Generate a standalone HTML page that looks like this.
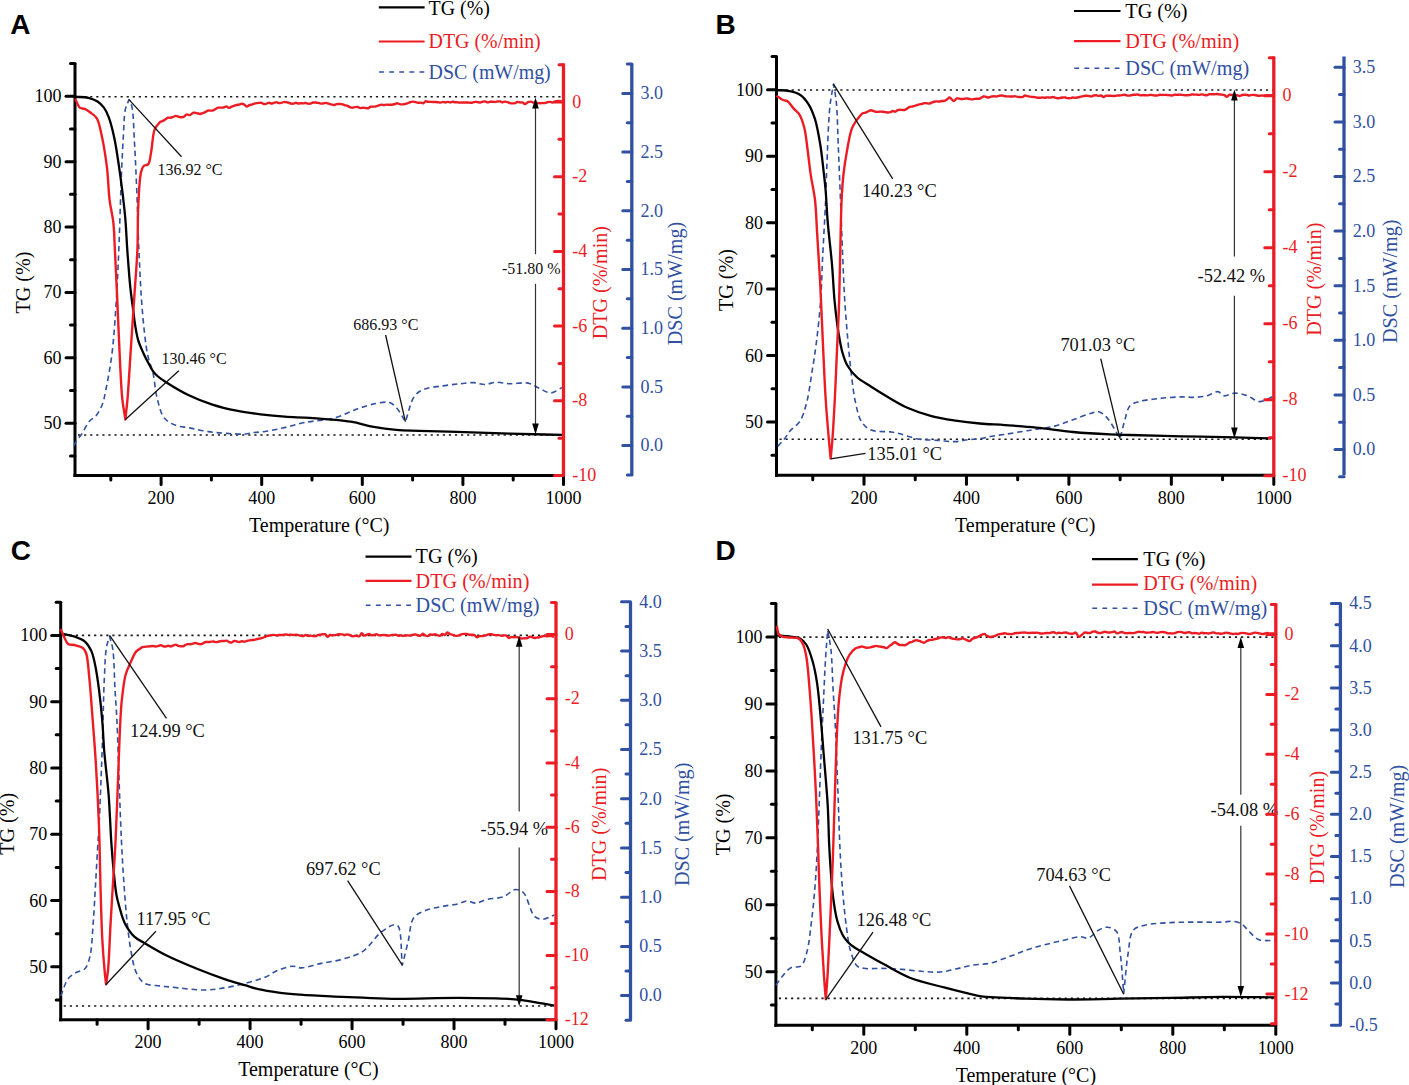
<!DOCTYPE html>
<html><head><meta charset="utf-8"><style>
html,body{margin:0;padding:0;background:#fff;}
svg{display:block;}
</style></head><body>
<svg width="1409" height="1085" viewBox="0 0 1409 1085">
<rect width="1409" height="1085" fill="#fff"/>
<text x="10.2" y="34.4" font-size="28" fill="#000" text-anchor="start" font-family='"Liberation Sans", sans-serif' font-weight="bold">A</text>
<line x1="378.8" y1="7.4" x2="424.6" y2="7.4" stroke="#000000" stroke-width="2.2"/>
<line x1="378.8" y1="41.5" x2="424.6" y2="41.5" stroke="#EC1C24" stroke-width="2.2"/>
<line x1="379.1" y1="72.1" x2="424.6" y2="72.1" stroke="#3050A2" stroke-width="1.5" stroke-dasharray="4.8 5.3"/>
<text x="428.6" y="14.5" font-size="19.9" fill="#000" text-anchor="start" font-family='"Liberation Serif", serif' font-weight="normal">TG (%)</text>
<text x="428.6" y="48.2" font-size="19.9" fill="#EC1C24" text-anchor="start" font-family='"Liberation Serif", serif' font-weight="normal">DTG (%/min)</text>
<text x="428.6" y="78.8" font-size="19.9" fill="#3050A2" text-anchor="start" font-family='"Liberation Serif", serif' font-weight="normal">DSC (mW/mg)</text>
<line x1="78" y1="96.8" x2="562.5" y2="96.8" stroke="#1a1a1a" stroke-width="1.6" stroke-dasharray="2.2 3.88"/>
<line x1="78" y1="435" x2="562.5" y2="435" stroke="#1a1a1a" stroke-width="1.6" stroke-dasharray="2.2 3.88"/>
<line x1="75" y1="63.6" x2="75" y2="477" stroke="#000000" stroke-width="3"/>
<line x1="70.5" y1="455.89" x2="75" y2="455.89" stroke="#000000" stroke-width="3" stroke-linecap="round"/>
<line x1="66" y1="423.2" x2="75" y2="423.2" stroke="#000000" stroke-width="3" stroke-linecap="round"/>
<text x="61.5" y="429.2" font-size="18" fill="#000" text-anchor="end" font-family='"Liberation Serif", serif' font-weight="normal">50</text>
<line x1="70.5" y1="390.5" x2="75" y2="390.5" stroke="#000000" stroke-width="3" stroke-linecap="round"/>
<line x1="66" y1="357.81" x2="75" y2="357.81" stroke="#000000" stroke-width="3" stroke-linecap="round"/>
<text x="61.5" y="363.81" font-size="18" fill="#000" text-anchor="end" font-family='"Liberation Serif", serif' font-weight="normal">60</text>
<line x1="70.5" y1="325.12" x2="75" y2="325.12" stroke="#000000" stroke-width="3" stroke-linecap="round"/>
<line x1="66" y1="292.43" x2="75" y2="292.43" stroke="#000000" stroke-width="3" stroke-linecap="round"/>
<text x="61.5" y="298.43" font-size="18" fill="#000" text-anchor="end" font-family='"Liberation Serif", serif' font-weight="normal">70</text>
<line x1="70.5" y1="259.74" x2="75" y2="259.74" stroke="#000000" stroke-width="3" stroke-linecap="round"/>
<line x1="66" y1="227.05" x2="75" y2="227.05" stroke="#000000" stroke-width="3" stroke-linecap="round"/>
<text x="61.5" y="233.05" font-size="18" fill="#000" text-anchor="end" font-family='"Liberation Serif", serif' font-weight="normal">80</text>
<line x1="70.5" y1="194.36" x2="75" y2="194.36" stroke="#000000" stroke-width="3" stroke-linecap="round"/>
<line x1="66" y1="161.67" x2="75" y2="161.67" stroke="#000000" stroke-width="3" stroke-linecap="round"/>
<text x="61.5" y="167.67" font-size="18" fill="#000" text-anchor="end" font-family='"Liberation Serif", serif' font-weight="normal">90</text>
<line x1="70.5" y1="128.98" x2="75" y2="128.98" stroke="#000000" stroke-width="3" stroke-linecap="round"/>
<line x1="66" y1="96.29" x2="75" y2="96.29" stroke="#000000" stroke-width="3" stroke-linecap="round"/>
<text x="61.5" y="102.29" font-size="18" fill="#000" text-anchor="end" font-family='"Liberation Serif", serif' font-weight="normal">100</text>
<line x1="70.5" y1="63.6" x2="75" y2="63.6" stroke="#000000" stroke-width="3" stroke-linecap="round"/>
<line x1="73.5" y1="475.5" x2="563.5" y2="475.5" stroke="#000000" stroke-width="3"/>
<line x1="110.8" y1="475.5" x2="110.8" y2="480" stroke="#000000" stroke-width="3" stroke-linecap="round"/>
<line x1="161.1" y1="475.5" x2="161.1" y2="484.5" stroke="#000000" stroke-width="3" stroke-linecap="round"/>
<text x="161.1" y="503.8" font-size="18" fill="#000" text-anchor="middle" font-family='"Liberation Serif", serif' font-weight="normal">200</text>
<line x1="211.4" y1="475.5" x2="211.4" y2="480" stroke="#000000" stroke-width="3" stroke-linecap="round"/>
<line x1="261.7" y1="475.5" x2="261.7" y2="484.5" stroke="#000000" stroke-width="3" stroke-linecap="round"/>
<text x="261.7" y="503.8" font-size="18" fill="#000" text-anchor="middle" font-family='"Liberation Serif", serif' font-weight="normal">400</text>
<line x1="312" y1="475.5" x2="312" y2="480" stroke="#000000" stroke-width="3" stroke-linecap="round"/>
<line x1="362.3" y1="475.5" x2="362.3" y2="484.5" stroke="#000000" stroke-width="3" stroke-linecap="round"/>
<text x="362.3" y="503.8" font-size="18" fill="#000" text-anchor="middle" font-family='"Liberation Serif", serif' font-weight="normal">600</text>
<line x1="412.6" y1="475.5" x2="412.6" y2="480" stroke="#000000" stroke-width="3" stroke-linecap="round"/>
<line x1="462.9" y1="475.5" x2="462.9" y2="484.5" stroke="#000000" stroke-width="3" stroke-linecap="round"/>
<text x="462.9" y="503.8" font-size="18" fill="#000" text-anchor="middle" font-family='"Liberation Serif", serif' font-weight="normal">800</text>
<line x1="513.2" y1="475.5" x2="513.2" y2="480" stroke="#000000" stroke-width="3" stroke-linecap="round"/>
<line x1="563.5" y1="475.5" x2="563.5" y2="484.5" stroke="#000000" stroke-width="3" stroke-linecap="round"/>
<text x="563.5" y="503.8" font-size="18" fill="#000" text-anchor="middle" font-family='"Liberation Serif", serif' font-weight="normal">1000</text>
<text x="319.25" y="532.1" font-size="20" fill="#000" text-anchor="middle" font-family='"Liberation Serif", serif' font-weight="normal">Temperature (°C)</text>
<path d="M74,445.5C75,443.67 75.8,441.81 77,440C78.3,438.04 79.95,436.58 81.6,434.2C83.96,430.81 86.64,424.48 89.4,421.3C91.44,418.95 93.85,418.41 95.8,416.1C98.27,413.17 100.65,408.7 102.3,404.5C104.04,400.07 104.58,395.97 105.8,390.1C107.68,381.01 110.16,367.99 111.8,355.1C113.8,339.38 115.03,320.03 116.2,302.5C117.36,285 117.98,269.31 118.8,250C119.81,226.26 120.67,192.05 121.6,170.6C122.23,155.97 122.8,144.67 123.5,133.7C124.06,124.87 123.96,116.03 125.3,109.8C126.2,105.61 127.77,103 129,99.6C129.93,101.77 131.03,102.96 131.8,106.1C133.56,113.29 133.71,130.02 134.5,143C135.38,157.48 136.01,172.58 136.7,189C137.49,207.9 137.95,229.65 138.9,250C139.85,270.41 140.74,292.6 142.4,311.3C143.81,327.15 145.37,343.87 147.7,355.1C149.2,362.33 151.4,366.12 152.9,372.6C154.71,380.43 155.19,390.91 157.3,398.9C159.14,405.9 160.75,413.63 164.3,418.1C167.11,421.64 170.96,423.47 175,425.1C179.38,426.87 184.6,426.89 189.8,427.9C195.6,429.03 202.03,430.68 208.2,431.6C214.34,432.51 220.54,433 226.7,433.4C232.84,433.8 240.03,434.33 245.1,434C248.71,433.77 251.11,432.91 254.3,432.5C257.72,432.06 261,432.08 265,431.5C270.18,430.75 276.45,429.39 282.7,428C289.81,426.42 297.29,424.03 305.4,422.4C314.58,420.56 325.91,420.27 335,417.8C343.2,415.57 350.51,411.27 357.7,408.8C364.02,406.63 370.13,404.5 375.8,403.5C380.63,402.64 385.87,401.54 389.5,402.6C392.34,403.43 394.08,405.24 396.3,407.6C399.43,410.93 402.37,417 405.4,421.7C408.4,413.23 410.39,401.75 414.4,396.3C417.01,392.76 419.71,391.17 423.5,389.5C428.34,387.36 435.62,386.95 441.7,386C447.75,385.05 454.27,384.39 459.9,383.8C464.76,383.29 469.19,382.43 473.5,382.6C477.45,382.76 481.03,384.56 484.8,384.5C488.6,384.44 492.22,382.36 496.2,382.2C500.52,382.02 504.93,383.61 509.8,383.8C515.42,384.02 522.75,382.06 528,383.1C532.36,383.96 535.59,386.66 539.4,388.3C543.16,389.92 546.95,393 550.7,392.9C554.49,392.8 558.23,389.37 562,387.6" fill="none" stroke="#3050A2" stroke-width="1.6" stroke-dasharray="5.5 3.8" stroke-linejoin="round"/>
<path d="M75,96.8C79.47,97.13 84.42,96.87 88.4,97.8C91.82,98.6 94.95,99.76 97.6,101.5C100.15,103.17 102.28,105.4 104.1,107.9C106.03,110.55 107.27,113.35 108.7,117.1C110.74,122.47 112.6,130.07 114.2,137.4C116.05,145.87 117.41,155.86 118.8,165.1C120.18,174.3 121.4,183.65 122.5,192.7C123.56,201.44 124.52,209.46 125.3,218.5C126.16,228.47 126.6,239.98 127.3,250C127.94,259.16 128.67,268.95 129.3,276.3C129.75,281.61 130.04,284.99 130.6,290C131.28,296.11 132.39,304.02 133.2,310.3C133.91,315.73 134.35,320.45 135.2,325.5C136.05,330.58 136.86,335.97 138.3,340.7C139.62,345.06 141.46,348.88 143.3,352.9C145.16,356.98 147.54,361.6 149.4,365C150.8,367.56 151.81,369.64 153.3,371.6C154.7,373.45 156.18,374.92 158,376.5C160.09,378.31 162.12,379.66 165.3,381.7C170.77,385.22 180.4,391.17 188.3,395C196.11,398.79 204.28,401.97 212.4,404.6C220.35,407.18 228.43,409.08 236.5,410.7C244.49,412.3 252.55,413.3 260.6,414.3C268.65,415.3 276.64,416.1 284.8,416.7C293.11,417.31 300.6,417.24 310,417.9C321.98,418.74 339.22,419.85 350.8,421.7C359.55,423.1 365.98,425.53 373.6,426.9C381.14,428.26 388.72,429.25 396.3,429.9C403.85,430.55 410.13,430.49 419,430.8C431.54,431.24 449.27,431.72 464.4,432.2C479.53,432.68 494.14,433.26 509.8,433.7C526.59,434.17 544.6,434.5 562,434.9" fill="none" stroke="#000000" stroke-width="2.3" stroke-linejoin="round"/>
<path d="M75.2,98.7C76.83,101.77 78.08,106.4 80.1,107.9C81.46,108.91 83.15,108.17 84.7,108.8C86.55,109.56 88.42,111.07 90.3,112.5C92.42,114.11 95,115.44 96.7,118.1C99.06,121.78 99.86,127.48 101.3,133.7C103.37,142.65 105.52,155.8 106.9,166.9C108.28,177.94 108.37,190.18 109.6,200.1C110.61,208.24 112.42,214.39 113.3,222.2C114.28,230.91 114.36,239.68 114.9,250C115.58,262.95 116.27,277.98 117,293.8C117.86,312.52 118.73,336.38 119.7,355.1C120.52,370.93 121.06,387.04 122.3,398.9C123.16,407.07 124.37,412.63 125.4,419.5C126.1,412.63 126.79,407.35 127.5,398.9C128.64,385.41 129.83,363.82 131,346.3C132.17,328.79 133.39,310.51 134.5,293.8C135.51,278.54 136.78,264.5 137.4,250C138.01,235.73 137.54,220.98 138.2,207.5C138.8,195.23 139.31,179.32 141,172.4C141.75,169.32 142.31,167.38 143.7,166C144.88,164.83 147.13,165.47 148.3,164.1C150.13,161.95 150.18,156.84 151.1,152.2C152.37,145.78 152.52,134.46 154.8,129.1C156.22,125.75 158.47,124.23 160.3,121.8C161.23,121.43 162.2,121.28 163.1,120.85C164.07,120.4 164.99,119.58 165.9,119.03C166.73,118.53 167.5,117.9 168.35,117.69C169.14,117.49 169.99,117.83 170.8,117.7C171.63,117.57 172.44,117.15 173.25,116.86C174.07,116.56 174.88,115.98 175.7,115.92C176.51,115.87 177.33,116.3 178.15,116.51C178.97,116.73 179.73,117.11 180.6,117.19C181.56,117.28 182.7,117.33 183.67,116.93C184.77,116.48 185.64,114.61 186.73,114.36C187.7,114.14 188.77,115.31 189.8,115.13C191.02,114.92 192.25,112.92 193.5,112.64C194.57,112.4 195.67,112.92 196.75,113.14C197.84,113.35 198.98,113.96 200,113.93C200.93,113.9 201.76,113.42 202.62,113.12C203.51,112.82 204.39,112.51 205.25,112.11C206.14,111.69 206.97,110.89 207.88,110.64C208.72,110.42 209.62,110.64 210.5,110.6C211.38,110.55 212.28,110.65 213.13,110.38C214.04,110.1 214.88,109.32 215.77,108.86C216.63,108.42 217.5,107.88 218.4,107.67C219.26,107.48 220.16,107.65 221.03,107.61C221.91,107.58 222.81,107.67 223.67,107.46C224.56,107.25 225.44,106.27 226.3,106.33C227.19,106.39 228.03,107.87 228.92,107.92C229.78,107.96 230.65,107.02 231.53,106.65C232.4,106.29 233.27,106.02 234.15,105.74C235.02,105.47 235.89,105.19 236.77,104.99C237.63,104.8 238.52,104.77 239.38,104.57C240.26,104.36 241.15,103.7 242,103.74C242.84,103.78 243.66,104.34 244.45,104.8C245.3,105.29 246.08,106.62 246.91,106.65C247.72,106.68 248.51,105.37 249.36,105.04C250.15,104.72 251.01,104.84 251.81,104.61C252.64,104.38 253.44,103.91 254.27,103.65C255.08,103.39 255.9,103.2 256.72,103.06C257.53,102.94 258.35,102.89 259.17,102.86C259.99,102.83 260.83,102.69 261.63,102.89C262.47,103.09 263.24,104 264.08,104.11C264.88,104.22 265.73,103.87 266.53,103.64C267.36,103.41 268.17,102.72 268.99,102.71C269.8,102.7 270.62,103.54 271.44,103.56C272.25,103.58 273.07,103.07 273.89,102.83C274.71,102.6 275.53,102.12 276.35,102.15C277.17,102.19 277.97,102.95 278.8,103.07C279.6,103.18 280.44,103.03 281.25,102.87C282.07,102.7 282.87,102.2 283.69,102.09C284.5,101.98 285.33,102.09 286.14,102.17C286.96,102.25 287.79,102.32 288.59,102.57C289.42,102.82 290.2,103.52 291.03,103.7C291.83,103.87 292.68,103.84 293.48,103.68C294.31,103.51 295.11,102.71 295.93,102.68C296.74,102.66 297.55,103.45 298.37,103.53C299.18,103.61 300,103.22 300.82,103.19C301.63,103.17 302.45,103.41 303.27,103.38C304.08,103.35 304.9,102.96 305.71,103C306.53,103.04 307.34,103.53 308.16,103.63C308.97,103.72 309.81,103.76 310.61,103.58C311.44,103.4 312.22,102.7 313.05,102.53C313.85,102.36 314.67,102.46 315.5,102.51C316.36,102.57 317.26,102.69 318.13,102.87C319.01,103.05 319.88,103.5 320.76,103.58C321.63,103.66 322.52,103.46 323.39,103.35C324.27,103.23 325.15,102.83 326.02,102.89C326.9,102.95 327.77,103.46 328.65,103.72C329.52,103.98 330.4,104.2 331.28,104.43C332.16,104.66 333.04,105.17 333.91,105.11C334.8,105.06 335.65,104.24 336.54,104.06C337.4,103.88 338.29,103.99 339.17,104C340.05,104.01 340.94,103.94 341.8,104.11C342.69,104.29 343.55,104.8 344.43,105.07C345.3,105.32 346.21,105.36 347.07,105.68C347.97,106.01 348.8,106.71 349.7,107.06C350.56,107.39 351.45,107.75 352.33,107.76C353.21,107.77 354.08,107.26 354.97,107.13C355.84,107 356.74,106.8 357.6,106.95C358.49,107.1 359.32,107.95 360.2,108.08C361.05,108.2 361.93,107.78 362.8,107.76C363.67,107.74 364.53,107.88 365.4,107.97C366.27,108.06 367.16,108.46 368,108.28C368.91,108.1 369.73,107.02 370.65,106.74C371.5,106.49 372.42,106.69 373.3,106.62C374.18,106.55 375.08,106.5 375.95,106.3C376.84,106.1 377.72,105.7 378.6,105.42C379.48,105.14 380.34,104.7 381.23,104.63C382.1,104.56 382.98,104.99 383.86,104.99C384.73,104.98 385.61,104.65 386.49,104.62C387.36,104.58 388.24,104.75 389.11,104.76C389.99,104.77 390.87,104.78 391.74,104.69C392.62,104.61 393.51,104.5 394.37,104.27C395.26,104.04 396.12,103.31 397,103.29C397.87,103.27 398.74,103.93 399.62,104.12C400.48,104.3 401.37,104.43 402.24,104.4C403.11,104.38 403.99,104.15 404.86,103.97C405.74,103.79 406.62,103.6 407.48,103.31C408.36,103.03 409.22,102.54 410.1,102.25C410.96,101.98 411.84,101.65 412.72,101.63C413.59,101.61 414.47,101.95 415.34,102.14C416.22,102.33 417.08,102.68 417.96,102.77C418.83,102.85 419.71,102.59 420.58,102.67C421.46,102.74 422.38,103.43 423.2,103.24C424.09,103.03 424.79,101.48 425.66,101.27C426.44,101.08 427.3,101.68 428.12,101.78C428.94,101.87 429.77,101.83 430.59,101.86C431.41,101.89 432.23,101.93 433.05,101.94C433.87,101.96 434.69,101.89 435.51,101.94C436.33,101.99 437.16,102.11 437.98,102.23C438.8,102.35 439.62,102.71 440.44,102.65C441.27,102.6 442.08,101.9 442.9,101.88C443.72,101.86 444.54,102.51 445.36,102.51C446.18,102.52 447,101.93 447.82,101.91C448.64,101.89 449.47,102.41 450.29,102.39C451.11,102.37 451.93,101.8 452.75,101.77C453.57,101.74 454.39,102.1 455.21,102.2C456.03,102.3 456.85,102.3 457.68,102.37C458.5,102.44 459.32,102.6 460.14,102.62C460.96,102.63 461.78,102.48 462.6,102.46C463.43,102.44 464.27,102.47 465.1,102.48C465.93,102.49 466.77,102.47 467.6,102.52C468.43,102.57 469.27,102.75 470.1,102.77C470.93,102.78 471.78,102.75 472.6,102.6C473.44,102.45 474.26,101.92 475.1,101.85C475.93,101.77 476.77,102.02 477.6,102.13C478.43,102.24 479.27,102.54 480.1,102.48C480.94,102.42 481.76,101.91 482.6,101.73C483.43,101.55 484.28,101.31 485.1,101.41C485.95,101.51 486.76,102.3 487.6,102.36C488.43,102.41 489.26,101.86 490.1,101.76C490.93,101.66 491.77,101.75 492.6,101.78C493.43,101.8 494.27,101.97 495.1,101.92C495.94,101.87 496.76,101.56 497.6,101.47C498.43,101.39 499.28,101.27 500.1,101.4C500.95,101.53 501.76,102.25 502.6,102.28C503.43,102.31 504.26,101.62 505.1,101.59C505.93,101.56 506.78,101.85 507.6,102.1C508.45,102.36 509.25,102.9 510.1,103.11C510.92,103.32 511.77,103.35 512.6,103.36C513.43,103.37 514.29,103.38 515.1,103.17C515.95,102.94 516.74,102.1 517.59,101.99C518.4,101.89 519.25,102.41 520.08,102.47C520.91,102.54 521.78,102.17 522.57,102.41C523.44,102.67 524.23,104.12 525.06,104.12C525.89,104.12 526.69,102.85 527.55,102.42C528.35,102.02 529.2,101.59 530.04,101.58C530.86,101.56 531.69,102.13 532.53,102.33C533.35,102.53 534.18,102.67 535.02,102.77C535.84,102.88 536.68,102.89 537.51,102.98C538.34,103.06 539.16,103.27 539.99,103.28C540.82,103.3 541.65,103.09 542.48,103.05C543.31,103.02 544.15,103.19 544.97,103.06C545.81,102.93 546.63,102.46 547.46,102.26C548.29,102.06 549.13,101.82 549.95,101.85C550.79,101.89 551.62,102.52 552.44,102.48C553.28,102.44 554.1,101.85 554.93,101.59C555.76,101.33 556.58,100.99 557.42,100.91C558.24,100.84 559.09,100.94 559.91,101.13C560.75,101.33 561.57,101.78 562.4,102.1" fill="none" stroke="#EC1C24" stroke-width="2.4" stroke-linejoin="round"/>
<line x1="129" y1="99.6" x2="181.5" y2="156.8" stroke="#111" stroke-width="1.3"/>
<text x="157.4" y="175.2" font-size="16" fill="#111" text-anchor="start" font-family='"Liberation Serif", serif' font-weight="normal">136.92 °C</text>
<line x1="125.4" y1="419.5" x2="178.8" y2="370.7" stroke="#111" stroke-width="1.3"/>
<text x="161.6" y="364.3" font-size="16" fill="#111" text-anchor="start" font-family='"Liberation Serif", serif' font-weight="normal">130.46 °C</text>
<line x1="385.6" y1="335" x2="405.4" y2="421.7" stroke="#111" stroke-width="1.3"/>
<text x="353.3" y="330.4" font-size="16" fill="#111" text-anchor="start" font-family='"Liberation Serif", serif' font-weight="normal">686.93 °C</text>
<line x1="535.5" y1="105.5" x2="535.5" y2="254.2" stroke="#333" stroke-width="1.2"/>
<line x1="535.5" y1="283.8" x2="535.5" y2="426.4" stroke="#333" stroke-width="1.2"/>
<path d="M535.5,97.5 L532.2,108.5 L538.8,108.5 Z" fill="#000"/>
<path d="M535.5,434.4 L532.2,423.4 L538.8,423.4 Z" fill="#000"/>
<text x="502" y="273.5" font-size="16" fill="#111" text-anchor="start" font-family='"Liberation Serif", serif' font-weight="normal">-51.80 %</text>
<line x1="563.5" y1="63.6" x2="563.5" y2="475.5" stroke="#EC1C24" stroke-width="3.3"/>
<line x1="554.5" y1="475.5" x2="563.5" y2="475.5" stroke="#EC1C24" stroke-width="3" stroke-linecap="round"/>
<text x="572.2" y="481.1" font-size="18" fill="#EC1C24" text-anchor="start" font-family='"Liberation Serif", serif' font-weight="normal">-10</text>
<line x1="559" y1="438.15" x2="563.5" y2="438.15" stroke="#EC1C24" stroke-width="3" stroke-linecap="round"/>
<line x1="554.5" y1="400.8" x2="563.5" y2="400.8" stroke="#EC1C24" stroke-width="3" stroke-linecap="round"/>
<text x="572.2" y="406.4" font-size="18" fill="#EC1C24" text-anchor="start" font-family='"Liberation Serif", serif' font-weight="normal">-8</text>
<line x1="559" y1="363.45" x2="563.5" y2="363.45" stroke="#EC1C24" stroke-width="3" stroke-linecap="round"/>
<line x1="554.5" y1="326.1" x2="563.5" y2="326.1" stroke="#EC1C24" stroke-width="3" stroke-linecap="round"/>
<text x="572.2" y="331.7" font-size="18" fill="#EC1C24" text-anchor="start" font-family='"Liberation Serif", serif' font-weight="normal">-6</text>
<line x1="559" y1="288.75" x2="563.5" y2="288.75" stroke="#EC1C24" stroke-width="3" stroke-linecap="round"/>
<line x1="554.5" y1="251.4" x2="563.5" y2="251.4" stroke="#EC1C24" stroke-width="3" stroke-linecap="round"/>
<text x="572.2" y="257" font-size="18" fill="#EC1C24" text-anchor="start" font-family='"Liberation Serif", serif' font-weight="normal">-4</text>
<line x1="559" y1="214.05" x2="563.5" y2="214.05" stroke="#EC1C24" stroke-width="3" stroke-linecap="round"/>
<line x1="554.5" y1="176.7" x2="563.5" y2="176.7" stroke="#EC1C24" stroke-width="3" stroke-linecap="round"/>
<text x="572.2" y="182.3" font-size="18" fill="#EC1C24" text-anchor="start" font-family='"Liberation Serif", serif' font-weight="normal">-2</text>
<line x1="559" y1="139.35" x2="563.5" y2="139.35" stroke="#EC1C24" stroke-width="3" stroke-linecap="round"/>
<line x1="554.5" y1="102" x2="563.5" y2="102" stroke="#EC1C24" stroke-width="3" stroke-linecap="round"/>
<text x="572.2" y="107.6" font-size="18" fill="#EC1C24" text-anchor="start" font-family='"Liberation Serif", serif' font-weight="normal">0</text>
<line x1="559" y1="64.65" x2="563.5" y2="64.65" stroke="#EC1C24" stroke-width="3" stroke-linecap="round"/>
<line x1="631.8" y1="63.6" x2="631.8" y2="475.5" stroke="#3050A2" stroke-width="3.3"/>
<line x1="627.3" y1="474.95" x2="631.8" y2="474.95" stroke="#3050A2" stroke-width="3" stroke-linecap="round"/>
<line x1="622.8" y1="445.6" x2="631.8" y2="445.6" stroke="#3050A2" stroke-width="3" stroke-linecap="round"/>
<text x="640.6" y="451.4" font-size="18" fill="#3050A2" text-anchor="start" font-family='"Liberation Serif", serif' font-weight="normal">0.0</text>
<line x1="627.3" y1="416.25" x2="631.8" y2="416.25" stroke="#3050A2" stroke-width="3" stroke-linecap="round"/>
<line x1="622.8" y1="386.9" x2="631.8" y2="386.9" stroke="#3050A2" stroke-width="3" stroke-linecap="round"/>
<text x="640.6" y="392.7" font-size="18" fill="#3050A2" text-anchor="start" font-family='"Liberation Serif", serif' font-weight="normal">0.5</text>
<line x1="627.3" y1="357.55" x2="631.8" y2="357.55" stroke="#3050A2" stroke-width="3" stroke-linecap="round"/>
<line x1="622.8" y1="328.2" x2="631.8" y2="328.2" stroke="#3050A2" stroke-width="3" stroke-linecap="round"/>
<text x="640.6" y="334" font-size="18" fill="#3050A2" text-anchor="start" font-family='"Liberation Serif", serif' font-weight="normal">1.0</text>
<line x1="627.3" y1="298.85" x2="631.8" y2="298.85" stroke="#3050A2" stroke-width="3" stroke-linecap="round"/>
<line x1="622.8" y1="269.5" x2="631.8" y2="269.5" stroke="#3050A2" stroke-width="3" stroke-linecap="round"/>
<text x="640.6" y="275.3" font-size="18" fill="#3050A2" text-anchor="start" font-family='"Liberation Serif", serif' font-weight="normal">1.5</text>
<line x1="627.3" y1="240.15" x2="631.8" y2="240.15" stroke="#3050A2" stroke-width="3" stroke-linecap="round"/>
<line x1="622.8" y1="210.8" x2="631.8" y2="210.8" stroke="#3050A2" stroke-width="3" stroke-linecap="round"/>
<text x="640.6" y="216.6" font-size="18" fill="#3050A2" text-anchor="start" font-family='"Liberation Serif", serif' font-weight="normal">2.0</text>
<line x1="627.3" y1="181.45" x2="631.8" y2="181.45" stroke="#3050A2" stroke-width="3" stroke-linecap="round"/>
<line x1="622.8" y1="152.1" x2="631.8" y2="152.1" stroke="#3050A2" stroke-width="3" stroke-linecap="round"/>
<text x="640.6" y="157.9" font-size="18" fill="#3050A2" text-anchor="start" font-family='"Liberation Serif", serif' font-weight="normal">2.5</text>
<line x1="627.3" y1="122.75" x2="631.8" y2="122.75" stroke="#3050A2" stroke-width="3" stroke-linecap="round"/>
<line x1="622.8" y1="93.4" x2="631.8" y2="93.4" stroke="#3050A2" stroke-width="3" stroke-linecap="round"/>
<text x="640.6" y="99.2" font-size="18" fill="#3050A2" text-anchor="start" font-family='"Liberation Serif", serif' font-weight="normal">3.0</text>
<line x1="627.3" y1="64.05" x2="631.8" y2="64.05" stroke="#3050A2" stroke-width="3" stroke-linecap="round"/>
<text x="30.4" y="282.5" font-size="20.1" fill="#000" text-anchor="middle" font-family='"Liberation Serif", serif' font-weight="normal" transform="rotate(-90 30.4 282.5)">TG (%)</text>
<text x="606.6" y="282.6" font-size="20.1" fill="#EC1C24" text-anchor="middle" font-family='"Liberation Serif", serif' font-weight="normal" transform="rotate(-90 606.6 282.6)">DTG (%/min)</text>
<text x="682.1" y="283.5" font-size="20.1" fill="#3050A2" text-anchor="middle" font-family='"Liberation Serif", serif' font-weight="normal" transform="rotate(-90 682.1 283.5)">DSC (mW/mg)</text>
<text x="715.6" y="34.1" font-size="28" fill="#000" text-anchor="start" font-family='"Liberation Sans", sans-serif' font-weight="bold">B</text>
<line x1="1074" y1="11" x2="1120.5" y2="11" stroke="#000000" stroke-width="2.2"/>
<line x1="1074" y1="41.2" x2="1120.5" y2="41.2" stroke="#EC1C24" stroke-width="2.2"/>
<line x1="1074.3" y1="68.2" x2="1120.5" y2="68.2" stroke="#3050A2" stroke-width="1.5" stroke-dasharray="4.8 5.3"/>
<text x="1125.3" y="18" font-size="20.2" fill="#000" text-anchor="start" font-family='"Liberation Serif", serif' font-weight="normal">TG (%)</text>
<text x="1125.3" y="47.9" font-size="20.2" fill="#EC1C24" text-anchor="start" font-family='"Liberation Serif", serif' font-weight="normal">DTG (%/min)</text>
<text x="1125.3" y="74.9" font-size="20.2" fill="#3050A2" text-anchor="start" font-family='"Liberation Serif", serif' font-weight="normal">DSC (mW/mg)</text>
<line x1="779.5" y1="90" x2="1272.8" y2="90" stroke="#1a1a1a" stroke-width="1.6" stroke-dasharray="2.2 3.88"/>
<line x1="779.5" y1="439.2" x2="1272.8" y2="439.2" stroke="#1a1a1a" stroke-width="1.6" stroke-dasharray="2.2 3.88"/>
<line x1="776.5" y1="56.5" x2="776.5" y2="476.7" stroke="#000000" stroke-width="3"/>
<line x1="772" y1="455.26" x2="776.5" y2="455.26" stroke="#000000" stroke-width="3" stroke-linecap="round"/>
<line x1="767.5" y1="422.03" x2="776.5" y2="422.03" stroke="#000000" stroke-width="3" stroke-linecap="round"/>
<text x="763" y="428.03" font-size="18" fill="#000" text-anchor="end" font-family='"Liberation Serif", serif' font-weight="normal">50</text>
<line x1="772" y1="388.8" x2="776.5" y2="388.8" stroke="#000000" stroke-width="3" stroke-linecap="round"/>
<line x1="767.5" y1="355.57" x2="776.5" y2="355.57" stroke="#000000" stroke-width="3" stroke-linecap="round"/>
<text x="763" y="361.57" font-size="18" fill="#000" text-anchor="end" font-family='"Liberation Serif", serif' font-weight="normal">60</text>
<line x1="772" y1="322.34" x2="776.5" y2="322.34" stroke="#000000" stroke-width="3" stroke-linecap="round"/>
<line x1="767.5" y1="289.11" x2="776.5" y2="289.11" stroke="#000000" stroke-width="3" stroke-linecap="round"/>
<text x="763" y="295.11" font-size="18" fill="#000" text-anchor="end" font-family='"Liberation Serif", serif' font-weight="normal">70</text>
<line x1="772" y1="255.88" x2="776.5" y2="255.88" stroke="#000000" stroke-width="3" stroke-linecap="round"/>
<line x1="767.5" y1="222.65" x2="776.5" y2="222.65" stroke="#000000" stroke-width="3" stroke-linecap="round"/>
<text x="763" y="228.65" font-size="18" fill="#000" text-anchor="end" font-family='"Liberation Serif", serif' font-weight="normal">80</text>
<line x1="772" y1="189.42" x2="776.5" y2="189.42" stroke="#000000" stroke-width="3" stroke-linecap="round"/>
<line x1="767.5" y1="156.19" x2="776.5" y2="156.19" stroke="#000000" stroke-width="3" stroke-linecap="round"/>
<text x="763" y="162.19" font-size="18" fill="#000" text-anchor="end" font-family='"Liberation Serif", serif' font-weight="normal">90</text>
<line x1="772" y1="122.96" x2="776.5" y2="122.96" stroke="#000000" stroke-width="3" stroke-linecap="round"/>
<line x1="767.5" y1="89.73" x2="776.5" y2="89.73" stroke="#000000" stroke-width="3" stroke-linecap="round"/>
<text x="763" y="95.73" font-size="18" fill="#000" text-anchor="end" font-family='"Liberation Serif", serif' font-weight="normal">100</text>
<line x1="772" y1="56.5" x2="776.5" y2="56.5" stroke="#000000" stroke-width="3" stroke-linecap="round"/>
<line x1="775" y1="475.2" x2="1273.8" y2="475.2" stroke="#000000" stroke-width="3"/>
<line x1="812.77" y1="475.2" x2="812.77" y2="479.7" stroke="#000000" stroke-width="3" stroke-linecap="round"/>
<line x1="864" y1="475.2" x2="864" y2="484.2" stroke="#000000" stroke-width="3" stroke-linecap="round"/>
<text x="864" y="503.5" font-size="18" fill="#000" text-anchor="middle" font-family='"Liberation Serif", serif' font-weight="normal">200</text>
<line x1="915.23" y1="475.2" x2="915.23" y2="479.7" stroke="#000000" stroke-width="3" stroke-linecap="round"/>
<line x1="966.45" y1="475.2" x2="966.45" y2="484.2" stroke="#000000" stroke-width="3" stroke-linecap="round"/>
<text x="966.45" y="503.5" font-size="18" fill="#000" text-anchor="middle" font-family='"Liberation Serif", serif' font-weight="normal">400</text>
<line x1="1017.67" y1="475.2" x2="1017.67" y2="479.7" stroke="#000000" stroke-width="3" stroke-linecap="round"/>
<line x1="1068.9" y1="475.2" x2="1068.9" y2="484.2" stroke="#000000" stroke-width="3" stroke-linecap="round"/>
<text x="1068.9" y="503.5" font-size="18" fill="#000" text-anchor="middle" font-family='"Liberation Serif", serif' font-weight="normal">600</text>
<line x1="1120.12" y1="475.2" x2="1120.12" y2="479.7" stroke="#000000" stroke-width="3" stroke-linecap="round"/>
<line x1="1171.35" y1="475.2" x2="1171.35" y2="484.2" stroke="#000000" stroke-width="3" stroke-linecap="round"/>
<text x="1171.35" y="503.5" font-size="18" fill="#000" text-anchor="middle" font-family='"Liberation Serif", serif' font-weight="normal">800</text>
<line x1="1222.57" y1="475.2" x2="1222.57" y2="479.7" stroke="#000000" stroke-width="3" stroke-linecap="round"/>
<line x1="1273.8" y1="475.2" x2="1273.8" y2="484.2" stroke="#000000" stroke-width="3" stroke-linecap="round"/>
<text x="1273.8" y="503.5" font-size="18" fill="#000" text-anchor="middle" font-family='"Liberation Serif", serif' font-weight="normal">1000</text>
<text x="1025.15" y="531.8" font-size="20" fill="#000" text-anchor="middle" font-family='"Liberation Serif", serif' font-weight="normal">Temperature (°C)</text>
<path d="M777.7,446.5C780.2,443.63 783.04,440.67 785.2,437.9C787.05,435.53 787.97,433.41 790,431C792.62,427.88 797.34,425.27 800,421.1C803.13,416.2 804.77,409.64 806.6,402.8C808.82,394.5 810.01,384.39 811.6,374.6C813.32,364.02 815.05,353.17 816.5,341.5C818.12,328.47 819.7,313.72 820.7,300C821.68,286.56 821.79,274.65 822.5,260C823.37,242.15 824.87,217.1 825.6,200.6C826.12,188.82 826.18,182.26 826.7,170.3C827.45,152.94 828.24,122.29 829.9,106.5C830.89,97.09 832.3,91.57 833.5,84.1C834.43,90.13 835.56,94.74 836.3,102.2C837.49,114.14 837.71,133.06 838.4,149C839.12,165.63 839.81,182.76 840.5,200C841.21,217.72 841.87,236.64 842.6,253.9C843.27,269.87 843.77,285.04 844.7,300C845.59,314.2 846.81,328.45 848,341.5C849.06,353.16 850.08,364.06 851.4,374.6C852.61,384.28 853.6,394.04 855.5,402.4C857.11,409.49 858.35,416.89 861.5,421.7C864.01,425.53 867.07,428.34 871.2,430.1C876.28,432.27 885.63,431.27 890.5,431.9C893.49,432.29 895.01,432.47 897.7,433.1C901.24,433.93 905.99,435.74 909.8,436.8C913.17,437.74 915.67,438.61 919.4,439.2C924.46,439.99 931.47,440 937.5,440.4C943.53,440.8 950.18,441.82 955.6,441.6C960.05,441.42 963.66,440.3 967.7,439.8C971.73,439.3 975.79,439.2 979.8,438.6C983.82,438 987.69,436.91 991.8,436.2C996.09,435.46 1000.05,435.06 1005,434.3C1011.39,433.32 1019.18,431.98 1026.9,430.7C1035.57,429.27 1046.3,428.19 1054.5,426.1C1061.36,424.35 1066.85,421.85 1073,419.7C1079.15,417.55 1086.6,414.53 1091.4,413.2C1094.38,412.37 1096.57,411.31 1098.8,411.7C1100.87,412.06 1102.65,413.62 1104.4,415.1C1106.38,416.78 1107.93,418.74 1109.9,421.5C1112.93,425.75 1116.63,432.97 1120,438.7C1121.57,432.67 1122.95,426.29 1124.7,420.6C1126.31,415.38 1127.11,408.97 1130,405.8C1132.29,403.28 1135.26,402.73 1139,401.6C1144.5,399.94 1153.18,399.18 1160.3,398.4C1167.38,397.62 1175.4,397.02 1181.6,396.9C1186.4,396.81 1190.14,397.48 1194.4,397.3C1198.67,397.12 1203.2,396.81 1207.2,395.8C1210.97,394.85 1214.78,391.29 1217.8,391.6C1220.28,391.85 1221.69,395.38 1224.2,395.8C1227.2,396.3 1231.09,393.18 1234.8,393.1C1238.86,393.02 1243.52,394.38 1247.6,395.8C1251.68,397.22 1255.18,401.38 1259.3,401.6C1263.69,401.84 1268.57,398.2 1273.2,396.5" fill="none" stroke="#3050A2" stroke-width="1.6" stroke-dasharray="5.5 3.8" stroke-linejoin="round"/>
<path d="M776.5,90C780.8,90.37 785.36,90.25 789.4,91.1C793.16,91.89 796.88,92.64 800,94.7C803.35,96.91 806.19,100.52 808.6,104.3C811.31,108.54 813.19,113.46 815,119.2C817.29,126.49 818.88,136.25 820.3,144.8C821.71,153.28 822.58,162.34 823.5,170.3C824.31,177.29 824.97,182.64 825.6,190C826.41,199.35 826.75,210.51 827.7,221.9C828.8,235.08 830.84,250.94 832,264.5C833.06,276.86 833.51,289.22 834.5,300C835.33,309.04 836.24,317.27 837.3,324.9C838.21,331.43 839.35,338.07 840.3,343C840.96,346.44 841.27,348.53 842.2,351.7C843.37,355.7 844.76,360.86 847.1,365C849.54,369.31 852.85,373.47 856.7,377C860.8,380.76 866.34,383.57 871.2,386.7C876.01,389.8 880.34,392.54 885.7,395.7C892.17,399.51 899.82,404.4 907.4,407.8C915.08,411.25 923.38,414.04 931.5,416.2C939.45,418.32 947.54,419.48 955.6,420.7C963.64,421.91 971.64,422.77 979.8,423.5C988.11,424.24 996.16,424.46 1005,425.1C1014.82,425.81 1025.3,426.52 1036.1,427.6C1047.89,428.78 1060.68,430.87 1073,432C1085.28,433.13 1099.45,433.9 1109.9,434.4C1117.61,434.77 1121.75,434.77 1130,435C1143.22,435.36 1164.27,435.9 1181.6,436.3C1199.2,436.7 1218.77,437.01 1234.8,437.4C1248.03,437.72 1258.93,438.07 1271,438.4" fill="none" stroke="#000000" stroke-width="2.3" stroke-linejoin="round"/>
<path d="M776.5,95.8C778.67,97.2 780.99,99.12 783,100C784.52,100.67 785.87,100.21 787.3,101.1C789.44,102.43 791.62,106.35 793.7,108.6C795.51,110.56 797.44,111.51 799,113.9C801.18,117.26 802.93,122.52 804.3,127.7C805.95,133.95 806.48,141.57 807.5,149C808.62,157.13 809.45,166.1 810.7,174.6C811.95,183.1 813.95,190.98 815,200C816.18,210.16 816.34,220.41 817.1,232.6C818.07,248.17 819.32,267.24 820.3,285.8C821.37,306.14 822.24,329.81 823.2,349.8C824.04,367.41 824.67,383.69 825.7,399.5C826.64,413.96 828.07,430.13 829,441C829.6,448.04 830.07,452.6 830.6,458.4C831.17,452.6 831.74,448.05 832.3,441C833.16,430.13 834.04,413.96 834.8,399.5C835.63,383.68 836.29,365.62 837,349.8C837.65,335.34 838.38,323.31 838.9,308.3C839.52,290.52 839.83,268.69 840.3,250C840.73,232.69 840.92,213.8 841.6,200C842.08,190.23 842.49,183.31 843.4,175C844.32,166.67 845.62,158.09 847.1,150.1C848.49,142.59 849.8,133.83 851.9,128.4C853.28,124.82 855.1,122.8 856.7,120C858.7,117.76 860.91,114.3 862.7,113.27C863.71,112.68 864.61,113.01 865.53,112.68C866.5,112.34 867.41,111.64 868.37,111.23C869.3,110.84 870.25,110.27 871.2,110.28C872.17,110.29 873.14,111.07 874.13,111.33C875.1,111.59 876.09,111.79 877.07,111.84C878.04,111.89 879.04,111.63 880,111.62C880.92,111.61 881.8,111.69 882.7,111.77C883.6,111.85 884.5,111.98 885.4,112.09C886.3,112.21 887.23,112.49 888.1,112.47C888.92,112.46 889.71,112.28 890.5,112.05C891.31,111.81 892.09,111.11 892.9,111.05C893.69,111 894.52,111.8 895.3,111.68C896.13,111.56 896.86,110.51 897.7,110.2C898.48,109.91 899.32,109.84 900.13,109.81C900.94,109.78 901.76,110.03 902.57,110.04C903.38,110.05 904.1,110.16 905,109.86C906.38,109.41 908.42,107.26 909.8,106.8C910.69,106.5 911.41,106.77 912.2,106.6C913.01,106.44 913.8,106.05 914.6,105.79C915.4,105.53 916.2,105.28 917,105.03C917.8,104.79 918.59,104.52 919.4,104.34C920.2,104.16 921.02,104.17 921.82,103.97C922.64,103.76 923.42,103.22 924.24,103.11C925.04,103 925.85,103.18 926.66,103.26C927.47,103.35 928.28,103.69 929.08,103.6C929.9,103.5 930.68,102.99 931.5,102.68C932.35,102.36 933.23,101.94 934.12,101.72C934.98,101.51 935.86,101.4 936.73,101.37C937.6,101.34 938.48,101.59 939.35,101.53C940.23,101.46 941.09,101.05 941.97,100.95C942.83,100.84 943.75,101.15 944.58,100.89C945.5,100.62 946.35,99.79 947.2,99.22C948.02,98.66 948.7,97.46 949.6,97.5C950.82,97.55 952.52,101.05 953.8,101.04C954.89,101.03 955.77,98.76 956.8,98.43C957.63,98.16 958.5,98.57 959.36,98.67C960.21,98.77 961.06,99.03 961.91,99.04C962.76,99.04 963.61,98.8 964.47,98.7C965.32,98.61 966.17,98.44 967.02,98.49C967.88,98.53 968.72,98.82 969.58,98.96C970.43,99.1 971.28,99.36 972.13,99.34C972.99,99.32 973.83,98.95 974.69,98.84C975.54,98.74 976.39,98.76 977.24,98.72C978.1,98.68 978.91,98.88 979.8,98.62C980.94,98.28 982.28,96.72 983.4,96.48C984.25,96.29 985.01,96.55 985.8,96.71C986.61,96.88 987.37,97.47 988.2,97.47C989.08,97.48 990.01,96.84 990.93,96.64C991.83,96.44 992.74,96.31 993.65,96.28C994.56,96.25 995.47,96.52 996.38,96.45C997.29,96.37 998.17,95.96 999.1,95.81C1000.06,95.66 1001.07,95.5 1002.05,95.56C1003.04,95.63 1004.05,96.09 1005,96.23C1005.86,96.35 1006.66,96.34 1007.48,96.38C1008.31,96.41 1009.14,96.4 1009.97,96.43C1010.79,96.46 1011.63,96.6 1012.45,96.55C1013.28,96.5 1014.11,96.07 1014.93,96.12C1015.77,96.17 1016.58,96.71 1017.42,96.86C1018.24,97 1019.07,96.96 1019.9,96.99C1020.73,97.03 1021.59,97.31 1022.38,97.09C1023.25,96.85 1024.01,95.59 1024.87,95.46C1025.67,95.34 1026.52,95.97 1027.35,96.17C1028.17,96.36 1029,96.51 1029.83,96.64C1030.66,96.76 1031.49,96.83 1032.32,96.91C1033.14,97 1033.97,97 1034.8,97.13C1035.64,97.26 1036.48,97.58 1037.33,97.7C1038.17,97.81 1039.02,97.84 1039.86,97.81C1040.71,97.79 1041.55,97.56 1042.39,97.54C1043.24,97.53 1044.08,97.74 1044.92,97.71C1045.77,97.68 1046.61,97.4 1047.46,97.38C1048.3,97.35 1049.15,97.63 1049.99,97.57C1050.84,97.52 1051.68,97.03 1052.52,97.04C1053.36,97.05 1054.21,97.42 1055.05,97.64C1055.9,97.85 1056.73,98.27 1057.58,98.32C1058.42,98.36 1059.27,98.06 1060.11,97.93C1060.96,97.8 1061.8,97.61 1062.64,97.53C1063.49,97.45 1064.34,97.33 1065.17,97.44C1066.03,97.54 1066.85,98.05 1067.71,98.17C1068.54,98.28 1069.4,98.28 1070.24,98.16C1071.09,98.04 1071.92,97.48 1072.77,97.43C1073.61,97.38 1074.44,97.88 1075.3,97.87C1076.19,97.86 1077.1,97.52 1078,97.32C1078.9,97.12 1079.8,96.87 1080.7,96.67C1081.6,96.46 1082.5,96.24 1083.4,96.08C1084.3,95.93 1085.2,95.75 1086.1,95.74C1087,95.72 1087.93,95.85 1088.8,95.98C1089.64,96.1 1090.44,96.55 1091.25,96.48C1092.08,96.41 1092.87,95.69 1093.7,95.49C1094.5,95.31 1095.34,95.25 1096.15,95.31C1096.97,95.37 1097.78,95.83 1098.6,95.85C1099.41,95.88 1100.26,95.31 1101.05,95.47C1101.9,95.65 1102.67,96.98 1103.5,97.02C1104.31,97.06 1105.11,95.98 1105.95,95.77C1106.74,95.57 1107.58,95.72 1108.4,95.71C1109.22,95.7 1110.03,95.66 1110.85,95.71C1111.67,95.76 1112.48,96.01 1113.3,96.02C1114.12,96.04 1114.93,95.88 1115.75,95.79C1116.57,95.7 1117.38,95.54 1118.2,95.47C1119.02,95.41 1119.84,95.5 1120.65,95.4C1121.47,95.29 1122.28,94.92 1123.1,94.85C1123.91,94.78 1124.74,94.83 1125.55,94.96C1126.37,95.09 1127.18,95.56 1128,95.65C1128.81,95.73 1129.64,95.61 1130.45,95.47C1131.27,95.33 1132.08,94.91 1132.9,94.79C1133.71,94.68 1134.53,94.82 1135.35,94.77C1136.17,94.73 1136.99,94.45 1137.8,94.54C1138.63,94.63 1139.42,95.27 1140.25,95.35C1141.06,95.44 1141.88,95.1 1142.7,95.09C1143.52,95.08 1144.33,95.25 1145.15,95.29C1145.97,95.33 1146.79,95.4 1147.6,95.34C1148.42,95.28 1149.23,94.96 1150.05,94.92C1150.86,94.89 1151.69,95.02 1152.5,95.11C1153.32,95.2 1154.13,95.45 1154.95,95.49C1155.76,95.52 1156.59,95.46 1157.4,95.34C1158.22,95.21 1159.03,94.8 1159.85,94.73C1160.66,94.67 1161.48,94.91 1162.3,94.93C1163.12,94.94 1163.93,94.84 1164.75,94.84C1165.57,94.84 1166.38,94.87 1167.2,94.94C1168.02,95 1168.83,95.15 1169.65,95.24C1170.47,95.33 1171.29,95.58 1172.1,95.48C1172.93,95.39 1173.72,94.76 1174.55,94.66C1175.36,94.57 1176.18,94.87 1177,94.87C1177.82,94.86 1178.63,94.61 1179.45,94.62C1180.27,94.62 1181.08,94.81 1181.9,94.89C1182.72,94.98 1183.53,95.07 1184.35,95.14C1185.17,95.2 1185.98,95.29 1186.8,95.3C1187.62,95.3 1188.44,95.32 1189.25,95.18C1190.08,95.04 1190.87,94.54 1191.7,94.44C1192.51,94.35 1193.33,94.56 1194.15,94.6C1194.97,94.63 1195.78,94.6 1196.6,94.65C1197.44,94.69 1198.29,94.91 1199.13,94.86C1199.98,94.82 1200.82,94.36 1201.66,94.36C1202.51,94.36 1203.35,94.7 1204.19,94.84C1205.04,94.99 1205.89,95.32 1206.72,95.24C1207.58,95.15 1208.4,94.44 1209.26,94.27C1210.09,94.11 1210.94,94.19 1211.79,94.19C1212.63,94.2 1213.48,94.33 1214.32,94.29C1215.16,94.26 1216.01,93.98 1216.85,93.99C1217.69,94 1218.54,94.27 1219.38,94.37C1220.22,94.46 1221.07,94.44 1221.91,94.57C1222.76,94.72 1223.63,94.87 1224.44,95.21C1225.32,95.58 1226.15,96.81 1226.97,96.76C1227.84,96.7 1228.61,95.01 1229.51,94.76C1230.31,94.53 1231.19,95.05 1232.04,95.06C1232.88,95.08 1233.73,94.82 1234.57,94.86C1235.41,94.89 1236.26,95.09 1237.1,95.27C1237.94,95.45 1238.77,96.01 1239.59,95.97C1240.43,95.93 1241.24,95.23 1242.09,95.02C1242.9,94.82 1243.75,94.71 1244.58,94.71C1245.41,94.71 1246.24,94.86 1247.07,95C1247.91,95.14 1248.74,95.57 1249.56,95.55C1250.4,95.53 1251.22,94.98 1252.06,94.88C1252.88,94.78 1253.72,94.84 1254.55,94.94C1255.39,95.05 1256.21,95.38 1257.04,95.52C1257.87,95.66 1258.7,95.77 1259.54,95.78C1260.37,95.78 1261.2,95.58 1262.03,95.56C1262.86,95.54 1263.69,95.66 1264.52,95.63C1265.35,95.6 1266.18,95.42 1267.01,95.37C1267.84,95.33 1268.68,95.38 1269.51,95.35C1270.34,95.32 1271.17,95.25 1272,95.2" fill="none" stroke="#EC1C24" stroke-width="2.4" stroke-linejoin="round"/>
<line x1="833.5" y1="84.1" x2="892.7" y2="178.8" stroke="#111" stroke-width="1.3"/>
<text x="861.9" y="196.9" font-size="18.4" fill="#111" text-anchor="start" font-family='"Liberation Serif", serif' font-weight="normal">140.23 °C</text>
<line x1="830.6" y1="458.9" x2="865.5" y2="453.4" stroke="#111" stroke-width="1.3"/>
<text x="867.3" y="459.7" font-size="18.4" fill="#111" text-anchor="start" font-family='"Liberation Serif", serif' font-weight="normal">135.01 °C</text>
<line x1="1100.7" y1="358.6" x2="1120" y2="438.7" stroke="#111" stroke-width="1.3"/>
<text x="1060.4" y="351.1" font-size="18.4" fill="#111" text-anchor="start" font-family='"Liberation Serif", serif' font-weight="normal">701.03 °C</text>
<line x1="1234.4" y1="97.4" x2="1234.4" y2="256.4" stroke="#333" stroke-width="1.2"/>
<line x1="1234.4" y1="295.8" x2="1234.4" y2="430.4" stroke="#333" stroke-width="1.2"/>
<path d="M1234.4,89.4 L1231.1,100.4 L1237.7,100.4 Z" fill="#000"/>
<path d="M1234.4,438.4 L1231.1,427.4 L1237.7,427.4 Z" fill="#000"/>
<text x="1197.6" y="281.9" font-size="18.4" fill="#111" text-anchor="start" font-family='"Liberation Serif", serif' font-weight="normal">-52.42 %</text>
<line x1="1273.8" y1="56.5" x2="1273.8" y2="475.2" stroke="#EC1C24" stroke-width="3.3"/>
<line x1="1264.8" y1="475.8" x2="1273.8" y2="475.8" stroke="#EC1C24" stroke-width="3" stroke-linecap="round"/>
<text x="1282.5" y="481.4" font-size="18" fill="#EC1C24" text-anchor="start" font-family='"Liberation Serif", serif' font-weight="normal">-10</text>
<line x1="1269.3" y1="437.8" x2="1273.8" y2="437.8" stroke="#EC1C24" stroke-width="3" stroke-linecap="round"/>
<line x1="1264.8" y1="399.8" x2="1273.8" y2="399.8" stroke="#EC1C24" stroke-width="3" stroke-linecap="round"/>
<text x="1282.5" y="405.4" font-size="18" fill="#EC1C24" text-anchor="start" font-family='"Liberation Serif", serif' font-weight="normal">-8</text>
<line x1="1269.3" y1="361.8" x2="1273.8" y2="361.8" stroke="#EC1C24" stroke-width="3" stroke-linecap="round"/>
<line x1="1264.8" y1="323.8" x2="1273.8" y2="323.8" stroke="#EC1C24" stroke-width="3" stroke-linecap="round"/>
<text x="1282.5" y="329.4" font-size="18" fill="#EC1C24" text-anchor="start" font-family='"Liberation Serif", serif' font-weight="normal">-6</text>
<line x1="1269.3" y1="285.8" x2="1273.8" y2="285.8" stroke="#EC1C24" stroke-width="3" stroke-linecap="round"/>
<line x1="1264.8" y1="247.8" x2="1273.8" y2="247.8" stroke="#EC1C24" stroke-width="3" stroke-linecap="round"/>
<text x="1282.5" y="253.4" font-size="18" fill="#EC1C24" text-anchor="start" font-family='"Liberation Serif", serif' font-weight="normal">-4</text>
<line x1="1269.3" y1="209.8" x2="1273.8" y2="209.8" stroke="#EC1C24" stroke-width="3" stroke-linecap="round"/>
<line x1="1264.8" y1="171.8" x2="1273.8" y2="171.8" stroke="#EC1C24" stroke-width="3" stroke-linecap="round"/>
<text x="1282.5" y="177.4" font-size="18" fill="#EC1C24" text-anchor="start" font-family='"Liberation Serif", serif' font-weight="normal">-2</text>
<line x1="1269.3" y1="133.8" x2="1273.8" y2="133.8" stroke="#EC1C24" stroke-width="3" stroke-linecap="round"/>
<line x1="1264.8" y1="95.8" x2="1273.8" y2="95.8" stroke="#EC1C24" stroke-width="3" stroke-linecap="round"/>
<text x="1282.5" y="101.4" font-size="18" fill="#EC1C24" text-anchor="start" font-family='"Liberation Serif", serif' font-weight="normal">0</text>
<line x1="1269.3" y1="57.8" x2="1273.8" y2="57.8" stroke="#EC1C24" stroke-width="3" stroke-linecap="round"/>
<line x1="1344" y1="56.5" x2="1344" y2="475.2" stroke="#3050A2" stroke-width="3.3"/>
<line x1="1339.5" y1="476.8" x2="1344" y2="476.8" stroke="#3050A2" stroke-width="3" stroke-linecap="round"/>
<line x1="1335" y1="449.5" x2="1344" y2="449.5" stroke="#3050A2" stroke-width="3" stroke-linecap="round"/>
<text x="1352.8" y="455.3" font-size="18" fill="#3050A2" text-anchor="start" font-family='"Liberation Serif", serif' font-weight="normal">0.0</text>
<line x1="1339.5" y1="422.2" x2="1344" y2="422.2" stroke="#3050A2" stroke-width="3" stroke-linecap="round"/>
<line x1="1335" y1="394.9" x2="1344" y2="394.9" stroke="#3050A2" stroke-width="3" stroke-linecap="round"/>
<text x="1352.8" y="400.7" font-size="18" fill="#3050A2" text-anchor="start" font-family='"Liberation Serif", serif' font-weight="normal">0.5</text>
<line x1="1339.5" y1="367.6" x2="1344" y2="367.6" stroke="#3050A2" stroke-width="3" stroke-linecap="round"/>
<line x1="1335" y1="340.3" x2="1344" y2="340.3" stroke="#3050A2" stroke-width="3" stroke-linecap="round"/>
<text x="1352.8" y="346.1" font-size="18" fill="#3050A2" text-anchor="start" font-family='"Liberation Serif", serif' font-weight="normal">1.0</text>
<line x1="1339.5" y1="313" x2="1344" y2="313" stroke="#3050A2" stroke-width="3" stroke-linecap="round"/>
<line x1="1335" y1="285.7" x2="1344" y2="285.7" stroke="#3050A2" stroke-width="3" stroke-linecap="round"/>
<text x="1352.8" y="291.5" font-size="18" fill="#3050A2" text-anchor="start" font-family='"Liberation Serif", serif' font-weight="normal">1.5</text>
<line x1="1339.5" y1="258.4" x2="1344" y2="258.4" stroke="#3050A2" stroke-width="3" stroke-linecap="round"/>
<line x1="1335" y1="231.1" x2="1344" y2="231.1" stroke="#3050A2" stroke-width="3" stroke-linecap="round"/>
<text x="1352.8" y="236.9" font-size="18" fill="#3050A2" text-anchor="start" font-family='"Liberation Serif", serif' font-weight="normal">2.0</text>
<line x1="1339.5" y1="203.8" x2="1344" y2="203.8" stroke="#3050A2" stroke-width="3" stroke-linecap="round"/>
<line x1="1335" y1="176.5" x2="1344" y2="176.5" stroke="#3050A2" stroke-width="3" stroke-linecap="round"/>
<text x="1352.8" y="182.3" font-size="18" fill="#3050A2" text-anchor="start" font-family='"Liberation Serif", serif' font-weight="normal">2.5</text>
<line x1="1339.5" y1="149.2" x2="1344" y2="149.2" stroke="#3050A2" stroke-width="3" stroke-linecap="round"/>
<line x1="1335" y1="121.9" x2="1344" y2="121.9" stroke="#3050A2" stroke-width="3" stroke-linecap="round"/>
<text x="1352.8" y="127.7" font-size="18" fill="#3050A2" text-anchor="start" font-family='"Liberation Serif", serif' font-weight="normal">3.0</text>
<line x1="1339.5" y1="94.6" x2="1344" y2="94.6" stroke="#3050A2" stroke-width="3" stroke-linecap="round"/>
<line x1="1335" y1="67.3" x2="1344" y2="67.3" stroke="#3050A2" stroke-width="3" stroke-linecap="round"/>
<text x="1352.8" y="73.1" font-size="18" fill="#3050A2" text-anchor="start" font-family='"Liberation Serif", serif' font-weight="normal">3.5</text>
<text x="732.6" y="280" font-size="20.1" fill="#000" text-anchor="middle" font-family='"Liberation Serif", serif' font-weight="normal" transform="rotate(-90 732.6 280)">TG (%)</text>
<text x="1320.8" y="279.1" font-size="20.1" fill="#EC1C24" text-anchor="middle" font-family='"Liberation Serif", serif' font-weight="normal" transform="rotate(-90 1320.8 279.1)">DTG (%/min)</text>
<text x="1396.8" y="281.2" font-size="20.1" fill="#3050A2" text-anchor="middle" font-family='"Liberation Serif", serif' font-weight="normal" transform="rotate(-90 1396.8 281.2)">DSC (mW/mg)</text>
<text x="10.7" y="559.8" font-size="28" fill="#000" text-anchor="start" font-family='"Liberation Sans", sans-serif' font-weight="bold">C</text>
<line x1="365.5" y1="556.6" x2="411.5" y2="556.6" stroke="#000000" stroke-width="2.2"/>
<line x1="365.5" y1="580.9" x2="411.5" y2="580.9" stroke="#EC1C24" stroke-width="2.2"/>
<line x1="365.8" y1="605.2" x2="411.5" y2="605.2" stroke="#3050A2" stroke-width="1.5" stroke-dasharray="4.8 5.3"/>
<text x="415.6" y="563" font-size="20.2" fill="#000" text-anchor="start" font-family='"Liberation Serif", serif' font-weight="normal">TG (%)</text>
<text x="415.6" y="588" font-size="20.2" fill="#EC1C24" text-anchor="start" font-family='"Liberation Serif", serif' font-weight="normal">DTG (%/min)</text>
<text x="415.6" y="611.5" font-size="20.2" fill="#3050A2" text-anchor="start" font-family='"Liberation Serif", serif' font-weight="normal">DSC (mW/mg)</text>
<line x1="63.7" y1="635.4" x2="555" y2="635.4" stroke="#1a1a1a" stroke-width="1.6" stroke-dasharray="2.2 3.88"/>
<line x1="63.7" y1="1006" x2="555" y2="1006" stroke="#1a1a1a" stroke-width="1.6" stroke-dasharray="2.2 3.88"/>
<line x1="60.7" y1="602.3" x2="60.7" y2="1021.3" stroke="#000000" stroke-width="3"/>
<line x1="56.2" y1="999.92" x2="60.7" y2="999.92" stroke="#000000" stroke-width="3" stroke-linecap="round"/>
<line x1="51.7" y1="966.78" x2="60.7" y2="966.78" stroke="#000000" stroke-width="3" stroke-linecap="round"/>
<text x="47.2" y="972.78" font-size="18" fill="#000" text-anchor="end" font-family='"Liberation Serif", serif' font-weight="normal">50</text>
<line x1="56.2" y1="933.65" x2="60.7" y2="933.65" stroke="#000000" stroke-width="3" stroke-linecap="round"/>
<line x1="51.7" y1="900.51" x2="60.7" y2="900.51" stroke="#000000" stroke-width="3" stroke-linecap="round"/>
<text x="47.2" y="906.51" font-size="18" fill="#000" text-anchor="end" font-family='"Liberation Serif", serif' font-weight="normal">60</text>
<line x1="56.2" y1="867.38" x2="60.7" y2="867.38" stroke="#000000" stroke-width="3" stroke-linecap="round"/>
<line x1="51.7" y1="834.24" x2="60.7" y2="834.24" stroke="#000000" stroke-width="3" stroke-linecap="round"/>
<text x="47.2" y="840.24" font-size="18" fill="#000" text-anchor="end" font-family='"Liberation Serif", serif' font-weight="normal">70</text>
<line x1="56.2" y1="801.11" x2="60.7" y2="801.11" stroke="#000000" stroke-width="3" stroke-linecap="round"/>
<line x1="51.7" y1="767.97" x2="60.7" y2="767.97" stroke="#000000" stroke-width="3" stroke-linecap="round"/>
<text x="47.2" y="773.97" font-size="18" fill="#000" text-anchor="end" font-family='"Liberation Serif", serif' font-weight="normal">80</text>
<line x1="56.2" y1="734.84" x2="60.7" y2="734.84" stroke="#000000" stroke-width="3" stroke-linecap="round"/>
<line x1="51.7" y1="701.7" x2="60.7" y2="701.7" stroke="#000000" stroke-width="3" stroke-linecap="round"/>
<text x="47.2" y="707.7" font-size="18" fill="#000" text-anchor="end" font-family='"Liberation Serif", serif' font-weight="normal">90</text>
<line x1="56.2" y1="668.57" x2="60.7" y2="668.57" stroke="#000000" stroke-width="3" stroke-linecap="round"/>
<line x1="51.7" y1="635.43" x2="60.7" y2="635.43" stroke="#000000" stroke-width="3" stroke-linecap="round"/>
<text x="47.2" y="641.43" font-size="18" fill="#000" text-anchor="end" font-family='"Liberation Serif", serif' font-weight="normal">100</text>
<line x1="56.2" y1="602.3" x2="60.7" y2="602.3" stroke="#000000" stroke-width="3" stroke-linecap="round"/>
<line x1="59.2" y1="1019.8" x2="556" y2="1019.8" stroke="#000000" stroke-width="3"/>
<line x1="97.11" y1="1019.8" x2="97.11" y2="1024.3" stroke="#000000" stroke-width="3" stroke-linecap="round"/>
<line x1="148.1" y1="1019.8" x2="148.1" y2="1028.8" stroke="#000000" stroke-width="3" stroke-linecap="round"/>
<text x="148.1" y="1048.1" font-size="18" fill="#000" text-anchor="middle" font-family='"Liberation Serif", serif' font-weight="normal">200</text>
<line x1="199.09" y1="1019.8" x2="199.09" y2="1024.3" stroke="#000000" stroke-width="3" stroke-linecap="round"/>
<line x1="250.07" y1="1019.8" x2="250.07" y2="1028.8" stroke="#000000" stroke-width="3" stroke-linecap="round"/>
<text x="250.07" y="1048.1" font-size="18" fill="#000" text-anchor="middle" font-family='"Liberation Serif", serif' font-weight="normal">400</text>
<line x1="301.06" y1="1019.8" x2="301.06" y2="1024.3" stroke="#000000" stroke-width="3" stroke-linecap="round"/>
<line x1="352.05" y1="1019.8" x2="352.05" y2="1028.8" stroke="#000000" stroke-width="3" stroke-linecap="round"/>
<text x="352.05" y="1048.1" font-size="18" fill="#000" text-anchor="middle" font-family='"Liberation Serif", serif' font-weight="normal">600</text>
<line x1="403.04" y1="1019.8" x2="403.04" y2="1024.3" stroke="#000000" stroke-width="3" stroke-linecap="round"/>
<line x1="454.02" y1="1019.8" x2="454.02" y2="1028.8" stroke="#000000" stroke-width="3" stroke-linecap="round"/>
<text x="454.02" y="1048.1" font-size="18" fill="#000" text-anchor="middle" font-family='"Liberation Serif", serif' font-weight="normal">800</text>
<line x1="505.01" y1="1019.8" x2="505.01" y2="1024.3" stroke="#000000" stroke-width="3" stroke-linecap="round"/>
<line x1="556" y1="1019.8" x2="556" y2="1028.8" stroke="#000000" stroke-width="3" stroke-linecap="round"/>
<text x="556" y="1048.1" font-size="18" fill="#000" text-anchor="middle" font-family='"Liberation Serif", serif' font-weight="normal">1000</text>
<text x="308.35" y="1076.4" font-size="20" fill="#000" text-anchor="middle" font-family='"Liberation Serif", serif' font-weight="normal">Temperature (°C)</text>
<path d="M60.7,996C63.23,990.2 65.08,982.7 68.3,978.6C70.69,975.57 73.73,973.98 76.6,972.3C79.28,970.73 82.76,970.88 84.9,968.7C87.47,966.08 88.61,961.77 89.9,956.6C91.97,948.29 92.26,934.72 93.2,922.9C94.24,909.82 94.88,895.31 95.7,881.5C96.52,867.68 97.47,850.05 98.1,840C98.46,834.27 98.65,832.95 99,826.5C99.87,810.17 101.58,766.32 102.5,740C103.27,717.9 103.46,696.06 104.3,679C104.91,666.65 105.12,654.82 106.5,647.1C107.31,642.56 108.57,640.03 109.6,636.5C110.67,640.73 111.97,643.72 112.8,649.2C114.26,658.84 114.27,677.18 115,689.7C115.63,700.53 116.31,708.03 116.9,720C117.76,737.37 118.43,763.29 119.2,783.9C119.93,803.21 120.56,822.71 121.4,840C122.12,854.88 122.83,867.68 123.8,881.5C124.77,895.31 125.81,910.24 127.2,922.9C128.38,933.69 129.57,943.89 131.3,952.8C132.72,960.15 133.67,967.3 136.3,972.7C138.43,977.08 140.86,981.18 144.6,983.4C148.61,985.78 155.26,985.26 160,985.9C164.05,986.44 166.58,986.63 171.3,987.1C179.23,987.88 194.21,989.99 203.2,990C209.78,990.01 214.32,989.35 220.3,988.5C227.01,987.54 234.29,986.08 241.5,984.3C249.18,982.4 258.47,979.99 265,977.3C270,975.24 273.19,972.33 277.7,970.5C282.37,968.6 288.29,966.38 292.6,966.2C295.84,966.06 297.77,967.95 301.2,967.9C306.32,967.83 313.75,964.98 320.3,963.6C327.2,962.14 334.58,961.41 341.6,959.4C348.79,957.34 356.61,955.5 362.9,951.3C369.48,946.91 374.27,937.81 380,933.2C384.64,929.47 390.63,925.17 394,924.8C395.75,924.61 397.04,924.75 398.2,926.2C401.66,930.5 400.93,952.13 402.3,965.1C404.23,957.3 406.21,949.55 408.1,941.7C410.01,933.78 409.98,923.03 413.7,917.8C416.43,913.96 420.62,912.53 424.9,910.7C429.81,908.6 436.14,907.67 441.8,906.5C447.41,905.34 454.08,904.85 458.7,903.7C462.02,902.88 464.28,901 467.1,900.9C469.91,900.8 472.59,903.19 475.6,903.1C479.09,903 482.64,900.51 486.8,899.5C491.82,898.29 498.81,898.57 503.7,896.7C508.01,895.06 511.34,890.02 514.9,889.6C517.82,889.26 520.73,890.19 523.3,892.5C527.74,896.48 530.15,912.46 534.6,916.4C537.17,918.68 540,919.26 543,919.2C546.5,919.13 550.53,916.33 554.3,914.9" fill="none" stroke="#3050A2" stroke-width="1.6" stroke-dasharray="5.5 3.8" stroke-linejoin="round"/>
<path d="M60.7,633.3C65.3,634.37 70.27,634.99 74.5,636.5C78.38,637.89 82.35,639.28 85.2,641.8C87.99,644.27 89.82,647.58 91.5,651.4C93.58,656.12 94.59,662.38 95.8,668.4C97.14,675.07 98.01,681.96 99,689.7C100.18,698.9 101.32,709.75 102.2,720C103.1,730.51 103.35,740.59 104.3,752C105.4,765.17 107.45,779.93 108.6,794.5C109.81,809.88 110.42,829.03 111.3,842C111.91,851.01 112.33,856.77 113.1,864.9C113.98,874.19 115.03,886.96 116.4,894.7C117.29,899.73 118.15,902.65 119.4,907C120.86,912.06 122.28,918.23 124.8,923.2C127.27,928.08 130.65,933.14 134.3,936.6C137.52,939.65 140.85,940.87 145.1,943.4C151.01,946.92 158.67,951.55 166.6,955.5C175.89,960.12 187.57,964.94 197.6,969C206.86,972.75 216.21,976.27 224.6,979.1C231.78,981.52 238.74,983.39 244.8,985.2C249.75,986.68 253.3,988.05 258.3,989.2C264.34,990.6 271.73,991.7 278.6,992.6C285.62,993.52 292.2,994.01 300,994.6C309.37,995.31 320.59,995.89 331,996.4C341.56,996.92 352.09,997.31 362.9,997.7C374.08,998.11 383.96,998.68 397,998.8C414.54,998.95 438.61,997.8 458.7,997.9C477.87,998 500.99,998.14 514.9,999.3C523.17,999.99 528.04,1001.04 534.6,1002.1C541.18,1003.17 547.73,1004.5 554.3,1005.7" fill="none" stroke="#000000" stroke-width="2.3" stroke-linejoin="round"/>
<path d="M60.7,629C61.77,631.5 62.68,634.04 63.9,636.5C65.14,639.01 66.14,642.53 68.1,643.9C69.81,645.1 72.25,644.39 74.5,645C77.17,645.72 81.01,646.55 83,648.2C84.64,649.57 85.31,650.94 86.2,653.5C88.01,658.71 88.45,669.76 89.4,679C90.53,689.96 91.31,702.16 92.3,715C93.44,729.76 94.75,745.56 95.8,762.6C97.02,782.33 98.2,805.25 99,826.5C99.8,847.64 100.01,869.98 100.6,889.8C101.12,907.37 101.48,924.61 102.3,939.5C102.97,951.69 104.03,964.48 104.8,972.7C105.26,977.57 105.67,980.43 106.1,984.3C106.77,979.33 107.5,975.76 108.1,969.4C109.15,958.21 109.74,937.95 110.6,922.9C111.41,908.7 112.27,895.31 113.1,881.5C113.93,867.68 114.84,855.11 115.6,840C116.51,821.84 117.21,799.83 118,780C118.78,760.5 119.5,736.67 120.3,722C120.79,713.02 120.98,707.81 121.8,700.3C122.69,692.13 123.81,681.4 125.6,674.8C126.8,670.38 128.24,667.78 129.9,664.1C131.75,660.01 133.74,654.32 136.3,651.4C138.17,649.26 140.5,648.53 142.6,647.1C146.17,646.74 150.98,645.93 153.3,646.03C154.43,646.08 154.97,646.52 155.8,646.51C156.63,646.5 157.47,646.18 158.3,645.97C159.14,645.76 159.97,645.2 160.8,645.24C161.64,645.29 162.45,646.07 163.3,646.28C164.12,646.48 164.97,646.59 165.8,646.5C166.64,646.41 167.47,645.74 168.3,645.74C169.13,645.73 169.97,646.5 170.8,646.45C171.64,646.4 172.46,645.72 173.3,645.41C174.13,645.12 174.98,644.59 175.8,644.64C176.63,644.7 177.41,645.51 178.24,645.79C179.04,646.06 179.86,646.22 180.68,646.3C181.49,646.38 182.34,646.49 183.12,646.26C183.97,646.01 184.72,645.12 185.56,644.75C186.35,644.41 187.18,644.18 188,644.09C188.81,644 189.63,644.29 190.44,644.21C191.26,644.13 192.07,643.82 192.88,643.61C193.69,643.4 194.51,642.98 195.32,642.98C196.13,642.98 196.95,643.4 197.76,643.61C198.57,643.81 199.37,644.23 200.2,644.22C201.07,644.21 201.99,643.81 202.86,643.46C203.77,643.09 204.61,642.26 205.52,642.03C206.39,641.81 207.3,642.06 208.19,642.02C209.08,641.99 209.96,641.89 210.85,641.8C211.74,641.72 212.63,641.45 213.51,641.51C214.4,641.56 215.29,642.14 216.18,642.14C217.06,642.14 217.95,641.7 218.84,641.52C219.72,641.33 220.62,641.14 221.5,641.05C222.35,640.97 223.2,641.07 224.04,640.99C224.89,640.92 225.76,640.45 226.58,640.61C227.46,640.78 228.25,641.76 229.12,642.09C229.95,642.39 230.85,642.72 231.67,642.56C232.55,642.38 233.33,641.02 234.21,640.87C235.02,640.72 235.9,641.28 236.75,641.46C237.6,641.64 238.45,641.97 239.29,641.93C240.14,641.89 240.98,641.22 241.83,641.19C242.68,641.17 243.53,641.8 244.38,641.75C245.23,641.7 246.06,641.11 246.92,640.87C247.76,640.63 248.61,640.46 249.46,640.31C250.3,640.15 251.15,640.01 252,639.95C252.85,639.88 253.71,640.06 254.55,639.91C255.41,639.76 256.24,639.24 257.1,639.03C257.94,638.81 258.8,638.8 259.65,638.62C260.5,638.44 261.36,638.22 262.2,637.95C263.06,637.68 263.9,637.32 264.75,636.99C265.6,636.66 266.4,636.23 267.3,635.96C268.26,635.67 269.34,635.53 270.37,635.35C271.39,635.18 272.41,634.88 273.43,634.91C274.46,634.93 275.54,635.5 276.5,635.51C277.36,635.51 278.12,635.13 278.93,635.05C279.74,634.97 280.55,635.08 281.36,635.02C282.18,634.96 282.98,634.78 283.8,634.69C284.6,634.61 285.42,634.47 286.23,634.51C287.04,634.54 287.85,634.88 288.66,634.92C289.47,634.95 290.28,634.68 291.09,634.7C291.9,634.71 292.71,635.03 293.52,635.02C294.33,635.01 295.15,634.61 295.95,634.63C296.77,634.66 297.58,634.97 298.39,635.15C299.2,635.34 300,635.6 300.82,635.75C301.62,635.9 302.46,636.17 303.25,636.05C304.08,635.93 304.87,634.99 305.68,634.97C306.49,634.95 307.29,635.81 308.11,635.92C308.91,636.02 309.74,635.64 310.55,635.65C311.36,635.67 312.16,635.94 312.98,636.03C313.79,636.11 314.61,636.32 315.41,636.19C316.24,636.06 317.02,635.45 317.84,635.2C318.64,634.95 319.46,634.84 320.27,634.7C321.08,634.55 321.89,634.39 322.7,634.31C323.51,634.22 324.39,633.88 325.14,634.19C326.05,634.57 326.72,636.84 327.57,636.92C328.35,636.99 329.13,635.27 330,635.01C330.77,634.78 331.63,635.21 332.44,635.22C333.26,635.24 334.08,635.23 334.88,635.11C335.7,634.99 336.51,634.63 337.33,634.48C338.13,634.34 338.95,634.25 339.77,634.23C340.58,634.22 341.4,634.29 342.21,634.39C343.03,634.49 343.84,634.81 344.65,634.83C345.46,634.84 346.28,634.51 347.09,634.5C347.91,634.49 348.75,634.52 349.53,634.78C350.38,635.06 351.13,636.02 351.98,636.2C352.76,636.37 353.6,635.98 354.42,635.93C355.23,635.88 356.05,635.83 356.86,635.9C357.68,635.98 358.56,636.65 359.3,636.37C360.23,636.02 360.89,633.33 361.74,633.27C362.53,633.21 363.31,635.36 364.19,635.57C364.95,635.76 365.82,635.15 366.63,634.87C367.45,634.58 368.27,633.79 369.07,633.85C369.9,633.9 370.67,635.09 371.51,635.27C372.3,635.43 373.15,635.15 373.95,634.99C374.77,634.82 375.59,634.24 376.4,634.29C377.22,634.33 378.01,635.15 378.84,635.29C379.64,635.43 380.47,635.21 381.28,635.16C382.09,635.11 382.91,634.98 383.72,635.01C384.54,635.03 385.35,635.19 386.16,635.29C386.98,635.4 387.79,635.67 388.6,635.64C389.42,635.6 390.23,635.2 391.05,635.08C391.86,634.96 392.67,634.98 393.49,634.92C394.3,634.87 395.13,634.6 395.93,634.74C396.76,634.88 397.55,635.73 398.37,635.81C399.17,635.88 400,635.2 400.81,635.22C401.63,635.23 402.44,635.87 403.26,635.9C404.07,635.94 404.88,635.54 405.7,635.45C406.51,635.37 407.33,635.37 408.14,635.39C408.95,635.41 409.78,635.68 410.58,635.57C411.41,635.46 412.2,634.9 413.02,634.72C413.83,634.55 414.66,634.4 415.47,634.49C416.29,634.58 417.09,635.05 417.91,635.27C418.72,635.48 419.58,635.98 420.35,635.78C421.22,635.56 421.96,633.73 422.79,633.69C423.59,633.65 424.39,634.97 425.23,635.38C426.02,635.76 426.89,636.24 427.67,636.12C428.52,636 429.26,634.7 430.12,634.5C430.9,634.32 431.75,634.84 432.56,634.81C433.38,634.77 434.19,634.23 435,634.28C435.83,634.33 436.64,634.89 437.46,635.13C438.28,635.37 439.14,635.89 439.93,635.74C440.79,635.58 441.55,634.07 442.39,633.99C443.19,633.92 444.09,635.28 444.86,635.12C445.75,634.93 446.45,632.48 447.32,632.37C448.1,632.27 448.93,633.65 449.79,634.04C450.58,634.39 451.44,634.41 452.25,634.66C453.08,634.92 453.88,635.39 454.72,635.58C455.53,635.78 456.37,635.91 457.18,635.85C458.01,635.78 458.84,635.46 459.65,635.17C460.48,634.86 461.27,634.26 462.11,634.05C462.91,633.84 463.75,633.85 464.57,633.85C465.4,633.85 466.22,633.9 467.04,634.05C467.87,634.21 468.67,634.67 469.5,634.78C470.32,634.9 471.15,634.69 471.97,634.76C472.79,634.83 473.65,634.84 474.43,635.2C475.31,635.6 476.04,637.07 476.9,637.19C477.69,637.3 478.52,636.32 479.36,636.15C480.17,635.99 481.01,636.23 481.83,636.15C482.65,636.07 483.47,635.86 484.29,635.67C485.12,635.47 485.93,635.23 486.75,634.99C487.58,634.76 488.39,634.38 489.22,634.26C490.03,634.15 490.87,634.2 491.68,634.31C492.51,634.42 493.32,634.76 494.15,634.91C494.97,635.05 495.79,635.14 496.61,635.17C497.43,635.2 498.27,634.97 499.08,635.09C499.91,635.2 500.71,635.85 501.54,635.89C502.36,635.94 503.18,635.46 504.01,635.4C504.82,635.34 505.71,635.19 506.47,635.53C507.38,635.94 508.05,637.9 508.94,638.06C509.71,638.2 510.55,637.04 511.4,636.91C512.22,636.78 513.1,637.24 513.95,637.25C514.8,637.27 515.66,636.93 516.5,637.01C517.36,637.09 518.2,637.48 519.05,637.73C519.9,637.98 520.74,638.4 521.6,638.49C522.44,638.57 523.3,638.3 524.15,638.27C525,638.23 525.88,638.46 526.7,638.26C527.56,638.05 528.33,637.24 529.18,637.01C529.99,636.8 530.85,636.74 531.66,636.88C532.51,637.02 533.3,637.79 534.15,637.91C534.96,638.02 535.8,637.7 536.63,637.6C537.45,637.51 538.29,637.54 539.11,637.35C539.95,637.17 540.76,636.7 541.59,636.47C542.41,636.23 543.24,635.98 544.07,635.95C544.9,635.91 545.73,636.21 546.55,636.24C547.38,636.28 548.21,636.18 549.04,636.16C549.86,636.14 550.7,636.04 551.52,636.14C552.35,636.25 553.17,636.58 554,636.8" fill="none" stroke="#EC1C24" stroke-width="2.4" stroke-linejoin="round"/>
<line x1="109.6" y1="635.4" x2="166.5" y2="718.4" stroke="#111" stroke-width="1.3"/>
<text x="130" y="737" font-size="18.4" fill="#111" text-anchor="start" font-family='"Liberation Serif", serif' font-weight="normal">124.99 °C</text>
<line x1="105.8" y1="984.7" x2="155.9" y2="931.2" stroke="#111" stroke-width="1.3"/>
<text x="136.4" y="924.7" font-size="18.4" fill="#111" text-anchor="start" font-family='"Liberation Serif", serif' font-weight="normal">117.95 °C</text>
<line x1="347.6" y1="880.6" x2="402.3" y2="965.1" stroke="#111" stroke-width="1.3"/>
<text x="305.9" y="875" font-size="18.4" fill="#111" text-anchor="start" font-family='"Liberation Serif", serif' font-weight="normal">697.62 °C</text>
<line x1="519.2" y1="643.8" x2="519.2" y2="811.5" stroke="#333" stroke-width="1.2"/>
<line x1="519.2" y1="847.5" x2="519.2" y2="998.3" stroke="#333" stroke-width="1.2"/>
<path d="M519.2,635.8 L515.9,646.8 L522.5,646.8 Z" fill="#000"/>
<path d="M519.2,1006.3 L515.9,995.3 L522.5,995.3 Z" fill="#000"/>
<text x="480.6" y="834.8" font-size="18.4" fill="#111" text-anchor="start" font-family='"Liberation Serif", serif' font-weight="normal">-55.94 %</text>
<line x1="556" y1="602.3" x2="556" y2="1019.8" stroke="#EC1C24" stroke-width="3.3"/>
<line x1="547" y1="1019.8" x2="556" y2="1019.8" stroke="#EC1C24" stroke-width="3" stroke-linecap="round"/>
<text x="564.7" y="1025.4" font-size="18" fill="#EC1C24" text-anchor="start" font-family='"Liberation Serif", serif' font-weight="normal">-12</text>
<line x1="551.5" y1="987.7" x2="556" y2="987.7" stroke="#EC1C24" stroke-width="3" stroke-linecap="round"/>
<line x1="547" y1="955.6" x2="556" y2="955.6" stroke="#EC1C24" stroke-width="3" stroke-linecap="round"/>
<text x="564.7" y="961.2" font-size="18" fill="#EC1C24" text-anchor="start" font-family='"Liberation Serif", serif' font-weight="normal">-10</text>
<line x1="551.5" y1="923.5" x2="556" y2="923.5" stroke="#EC1C24" stroke-width="3" stroke-linecap="round"/>
<line x1="547" y1="891.4" x2="556" y2="891.4" stroke="#EC1C24" stroke-width="3" stroke-linecap="round"/>
<text x="564.7" y="897" font-size="18" fill="#EC1C24" text-anchor="start" font-family='"Liberation Serif", serif' font-weight="normal">-8</text>
<line x1="551.5" y1="859.3" x2="556" y2="859.3" stroke="#EC1C24" stroke-width="3" stroke-linecap="round"/>
<line x1="547" y1="827.2" x2="556" y2="827.2" stroke="#EC1C24" stroke-width="3" stroke-linecap="round"/>
<text x="564.7" y="832.8" font-size="18" fill="#EC1C24" text-anchor="start" font-family='"Liberation Serif", serif' font-weight="normal">-6</text>
<line x1="551.5" y1="795.1" x2="556" y2="795.1" stroke="#EC1C24" stroke-width="3" stroke-linecap="round"/>
<line x1="547" y1="763" x2="556" y2="763" stroke="#EC1C24" stroke-width="3" stroke-linecap="round"/>
<text x="564.7" y="768.6" font-size="18" fill="#EC1C24" text-anchor="start" font-family='"Liberation Serif", serif' font-weight="normal">-4</text>
<line x1="551.5" y1="730.9" x2="556" y2="730.9" stroke="#EC1C24" stroke-width="3" stroke-linecap="round"/>
<line x1="547" y1="698.8" x2="556" y2="698.8" stroke="#EC1C24" stroke-width="3" stroke-linecap="round"/>
<text x="564.7" y="704.4" font-size="18" fill="#EC1C24" text-anchor="start" font-family='"Liberation Serif", serif' font-weight="normal">-2</text>
<line x1="551.5" y1="666.7" x2="556" y2="666.7" stroke="#EC1C24" stroke-width="3" stroke-linecap="round"/>
<line x1="547" y1="634.6" x2="556" y2="634.6" stroke="#EC1C24" stroke-width="3" stroke-linecap="round"/>
<text x="564.7" y="640.2" font-size="18" fill="#EC1C24" text-anchor="start" font-family='"Liberation Serif", serif' font-weight="normal">0</text>
<line x1="551.5" y1="602.5" x2="556" y2="602.5" stroke="#EC1C24" stroke-width="3" stroke-linecap="round"/>
<line x1="630.5" y1="602.3" x2="630.5" y2="1019.8" stroke="#3050A2" stroke-width="3.3"/>
<line x1="626" y1="1020.21" x2="630.5" y2="1020.21" stroke="#3050A2" stroke-width="3" stroke-linecap="round"/>
<line x1="621.5" y1="995.6" x2="630.5" y2="995.6" stroke="#3050A2" stroke-width="3" stroke-linecap="round"/>
<text x="639.3" y="1001.4" font-size="18" fill="#3050A2" text-anchor="start" font-family='"Liberation Serif", serif' font-weight="normal">0.0</text>
<line x1="626" y1="970.99" x2="630.5" y2="970.99" stroke="#3050A2" stroke-width="3" stroke-linecap="round"/>
<line x1="621.5" y1="946.38" x2="630.5" y2="946.38" stroke="#3050A2" stroke-width="3" stroke-linecap="round"/>
<text x="639.3" y="952.17" font-size="18" fill="#3050A2" text-anchor="start" font-family='"Liberation Serif", serif' font-weight="normal">0.5</text>
<line x1="626" y1="921.76" x2="630.5" y2="921.76" stroke="#3050A2" stroke-width="3" stroke-linecap="round"/>
<line x1="621.5" y1="897.15" x2="630.5" y2="897.15" stroke="#3050A2" stroke-width="3" stroke-linecap="round"/>
<text x="639.3" y="902.95" font-size="18" fill="#3050A2" text-anchor="start" font-family='"Liberation Serif", serif' font-weight="normal">1.0</text>
<line x1="626" y1="872.54" x2="630.5" y2="872.54" stroke="#3050A2" stroke-width="3" stroke-linecap="round"/>
<line x1="621.5" y1="847.92" x2="630.5" y2="847.92" stroke="#3050A2" stroke-width="3" stroke-linecap="round"/>
<text x="639.3" y="853.72" font-size="18" fill="#3050A2" text-anchor="start" font-family='"Liberation Serif", serif' font-weight="normal">1.5</text>
<line x1="626" y1="823.31" x2="630.5" y2="823.31" stroke="#3050A2" stroke-width="3" stroke-linecap="round"/>
<line x1="621.5" y1="798.7" x2="630.5" y2="798.7" stroke="#3050A2" stroke-width="3" stroke-linecap="round"/>
<text x="639.3" y="804.5" font-size="18" fill="#3050A2" text-anchor="start" font-family='"Liberation Serif", serif' font-weight="normal">2.0</text>
<line x1="626" y1="774.09" x2="630.5" y2="774.09" stroke="#3050A2" stroke-width="3" stroke-linecap="round"/>
<line x1="621.5" y1="749.48" x2="630.5" y2="749.48" stroke="#3050A2" stroke-width="3" stroke-linecap="round"/>
<text x="639.3" y="755.27" font-size="18" fill="#3050A2" text-anchor="start" font-family='"Liberation Serif", serif' font-weight="normal">2.5</text>
<line x1="626" y1="724.86" x2="630.5" y2="724.86" stroke="#3050A2" stroke-width="3" stroke-linecap="round"/>
<line x1="621.5" y1="700.25" x2="630.5" y2="700.25" stroke="#3050A2" stroke-width="3" stroke-linecap="round"/>
<text x="639.3" y="706.05" font-size="18" fill="#3050A2" text-anchor="start" font-family='"Liberation Serif", serif' font-weight="normal">3.0</text>
<line x1="626" y1="675.64" x2="630.5" y2="675.64" stroke="#3050A2" stroke-width="3" stroke-linecap="round"/>
<line x1="621.5" y1="651.03" x2="630.5" y2="651.03" stroke="#3050A2" stroke-width="3" stroke-linecap="round"/>
<text x="639.3" y="656.83" font-size="18" fill="#3050A2" text-anchor="start" font-family='"Liberation Serif", serif' font-weight="normal">3.5</text>
<line x1="626" y1="626.41" x2="630.5" y2="626.41" stroke="#3050A2" stroke-width="3" stroke-linecap="round"/>
<line x1="621.5" y1="601.8" x2="630.5" y2="601.8" stroke="#3050A2" stroke-width="3" stroke-linecap="round"/>
<text x="639.3" y="607.6" font-size="18" fill="#3050A2" text-anchor="start" font-family='"Liberation Serif", serif' font-weight="normal">4.0</text>
<text x="14" y="823.8" font-size="20.1" fill="#000" text-anchor="middle" font-family='"Liberation Serif", serif' font-weight="normal" transform="rotate(-90 14 823.8)">TG (%)</text>
<text x="606" y="824.3" font-size="20.1" fill="#EC1C24" text-anchor="middle" font-family='"Liberation Serif", serif' font-weight="normal" transform="rotate(-90 606 824.3)">DTG (%/min)</text>
<text x="689" y="824.3" font-size="20.1" fill="#3050A2" text-anchor="middle" font-family='"Liberation Serif", serif' font-weight="normal" transform="rotate(-90 689 824.3)">DSC (mW/mg)</text>
<text x="715.6" y="559.8" font-size="28" fill="#000" text-anchor="start" font-family='"Liberation Sans", sans-serif' font-weight="bold">D</text>
<line x1="1092" y1="559.1" x2="1137.9" y2="559.1" stroke="#000000" stroke-width="2.2"/>
<line x1="1092" y1="584.6" x2="1137.9" y2="584.6" stroke="#EC1C24" stroke-width="2.2"/>
<line x1="1092.3" y1="608.3" x2="1137.9" y2="608.3" stroke="#3050A2" stroke-width="1.5" stroke-dasharray="4.8 5.3"/>
<text x="1143.3" y="565.5" font-size="20.2" fill="#000" text-anchor="start" font-family='"Liberation Serif", serif' font-weight="normal">TG (%)</text>
<text x="1143.3" y="590.2" font-size="20.2" fill="#EC1C24" text-anchor="start" font-family='"Liberation Serif", serif' font-weight="normal">DTG (%/min)</text>
<text x="1143.3" y="614.9" font-size="20.2" fill="#3050A2" text-anchor="start" font-family='"Liberation Serif", serif' font-weight="normal">DSC (mW/mg)</text>
<line x1="778.9" y1="637.1" x2="1274.8" y2="637.1" stroke="#1a1a1a" stroke-width="1.6" stroke-dasharray="2.2 3.88"/>
<line x1="778.9" y1="998.4" x2="1274.8" y2="998.4" stroke="#1a1a1a" stroke-width="1.6" stroke-dasharray="2.2 3.88"/>
<line x1="775.9" y1="603.6" x2="775.9" y2="1026.7" stroke="#000000" stroke-width="3"/>
<line x1="771.4" y1="1005.12" x2="775.9" y2="1005.12" stroke="#000000" stroke-width="3" stroke-linecap="round"/>
<line x1="766.9" y1="971.66" x2="775.9" y2="971.66" stroke="#000000" stroke-width="3" stroke-linecap="round"/>
<text x="762.4" y="977.66" font-size="18" fill="#000" text-anchor="end" font-family='"Liberation Serif", serif' font-weight="normal">50</text>
<line x1="771.4" y1="938.2" x2="775.9" y2="938.2" stroke="#000000" stroke-width="3" stroke-linecap="round"/>
<line x1="766.9" y1="904.74" x2="775.9" y2="904.74" stroke="#000000" stroke-width="3" stroke-linecap="round"/>
<text x="762.4" y="910.74" font-size="18" fill="#000" text-anchor="end" font-family='"Liberation Serif", serif' font-weight="normal">60</text>
<line x1="771.4" y1="871.28" x2="775.9" y2="871.28" stroke="#000000" stroke-width="3" stroke-linecap="round"/>
<line x1="766.9" y1="837.82" x2="775.9" y2="837.82" stroke="#000000" stroke-width="3" stroke-linecap="round"/>
<text x="762.4" y="843.82" font-size="18" fill="#000" text-anchor="end" font-family='"Liberation Serif", serif' font-weight="normal">70</text>
<line x1="771.4" y1="804.36" x2="775.9" y2="804.36" stroke="#000000" stroke-width="3" stroke-linecap="round"/>
<line x1="766.9" y1="770.9" x2="775.9" y2="770.9" stroke="#000000" stroke-width="3" stroke-linecap="round"/>
<text x="762.4" y="776.9" font-size="18" fill="#000" text-anchor="end" font-family='"Liberation Serif", serif' font-weight="normal">80</text>
<line x1="771.4" y1="737.44" x2="775.9" y2="737.44" stroke="#000000" stroke-width="3" stroke-linecap="round"/>
<line x1="766.9" y1="703.98" x2="775.9" y2="703.98" stroke="#000000" stroke-width="3" stroke-linecap="round"/>
<text x="762.4" y="709.98" font-size="18" fill="#000" text-anchor="end" font-family='"Liberation Serif", serif' font-weight="normal">90</text>
<line x1="771.4" y1="670.52" x2="775.9" y2="670.52" stroke="#000000" stroke-width="3" stroke-linecap="round"/>
<line x1="766.9" y1="637.06" x2="775.9" y2="637.06" stroke="#000000" stroke-width="3" stroke-linecap="round"/>
<text x="762.4" y="643.06" font-size="18" fill="#000" text-anchor="end" font-family='"Liberation Serif", serif' font-weight="normal">100</text>
<line x1="771.4" y1="603.6" x2="775.9" y2="603.6" stroke="#000000" stroke-width="3" stroke-linecap="round"/>
<line x1="774.4" y1="1025.2" x2="1275.8" y2="1025.2" stroke="#000000" stroke-width="3"/>
<line x1="812.3" y1="1025.2" x2="812.3" y2="1029.7" stroke="#000000" stroke-width="3" stroke-linecap="round"/>
<line x1="863.8" y1="1025.2" x2="863.8" y2="1034.2" stroke="#000000" stroke-width="3" stroke-linecap="round"/>
<text x="863.8" y="1053.5" font-size="18" fill="#000" text-anchor="middle" font-family='"Liberation Serif", serif' font-weight="normal">200</text>
<line x1="915.3" y1="1025.2" x2="915.3" y2="1029.7" stroke="#000000" stroke-width="3" stroke-linecap="round"/>
<line x1="966.8" y1="1025.2" x2="966.8" y2="1034.2" stroke="#000000" stroke-width="3" stroke-linecap="round"/>
<text x="966.8" y="1053.5" font-size="18" fill="#000" text-anchor="middle" font-family='"Liberation Serif", serif' font-weight="normal">400</text>
<line x1="1018.3" y1="1025.2" x2="1018.3" y2="1029.7" stroke="#000000" stroke-width="3" stroke-linecap="round"/>
<line x1="1069.8" y1="1025.2" x2="1069.8" y2="1034.2" stroke="#000000" stroke-width="3" stroke-linecap="round"/>
<text x="1069.8" y="1053.5" font-size="18" fill="#000" text-anchor="middle" font-family='"Liberation Serif", serif' font-weight="normal">600</text>
<line x1="1121.3" y1="1025.2" x2="1121.3" y2="1029.7" stroke="#000000" stroke-width="3" stroke-linecap="round"/>
<line x1="1172.8" y1="1025.2" x2="1172.8" y2="1034.2" stroke="#000000" stroke-width="3" stroke-linecap="round"/>
<text x="1172.8" y="1053.5" font-size="18" fill="#000" text-anchor="middle" font-family='"Liberation Serif", serif' font-weight="normal">800</text>
<line x1="1224.3" y1="1025.2" x2="1224.3" y2="1029.7" stroke="#000000" stroke-width="3" stroke-linecap="round"/>
<line x1="1275.8" y1="1025.2" x2="1275.8" y2="1034.2" stroke="#000000" stroke-width="3" stroke-linecap="round"/>
<text x="1275.8" y="1053.5" font-size="18" fill="#000" text-anchor="middle" font-family='"Liberation Serif", serif' font-weight="normal">1000</text>
<text x="1025.85" y="1081.8" font-size="20" fill="#000" text-anchor="middle" font-family='"Liberation Serif", serif' font-weight="normal">Temperature (°C)</text>
<path d="M776,985.1C778.2,982.07 780.15,978.87 782.6,976C785.1,973.07 787.71,969.33 790.9,967.7C793.87,966.19 798.35,968.08 800.9,966.1C803.95,963.73 805.1,958.36 806.7,952.8C809.14,944.34 810.31,930.68 811.7,919.6C813.08,908.58 814.07,898.17 815,886.5C816.04,873.46 816.66,861.82 817.5,845C818.79,818.98 820.26,772.21 821.4,745.5C822.17,727.5 822.79,715.14 823.5,700.3C824.19,685.89 824.81,670.36 825.6,657.7C826.24,647.5 827,639.3 827.7,630.1C828.77,636.47 830.06,641.62 830.9,649.2C832.11,660.17 832.35,676.73 833.1,689.7C833.79,701.69 834.5,710.35 835.2,724.3C836.27,745.62 837.57,782.97 838.4,805.2C838.98,820.79 839.16,831.6 839.8,845C840.45,858.69 841.18,872.69 842.3,886.5C843.42,900.32 844.86,916.11 846.5,927.9C847.73,936.77 848.52,944.32 850.6,951.1C852.34,956.76 854.15,963.36 857.3,966.1C859.58,968.09 862.37,968.05 865.6,968.5C869.91,969.1 875.45,968.29 881,968.4C887.53,968.53 895.22,968.88 902.3,969.4C909.38,969.92 916.81,971.07 923.5,971.5C929.5,971.88 935.12,972.47 940.6,972C945.76,971.56 950.38,970.09 955.5,969C960.99,967.83 966.77,966.17 972.5,965.2C978.27,964.23 984.01,964.56 990,963.2C996.67,961.69 1003.74,958.56 1010.6,956.1C1017.51,953.63 1023.63,950.78 1031.3,948.4C1040.52,945.53 1053.35,942.67 1062.3,940.6C1069.09,939.03 1075.53,936.9 1080.3,936.8C1083.43,936.73 1085.46,938.75 1088.1,938.1C1091.47,937.27 1094.93,932.15 1098.4,930.3C1101.38,928.71 1104.43,927.02 1107.4,927.2C1110.46,927.38 1114.34,928.74 1116.5,931.6C1119.7,935.84 1119.21,945.08 1120.3,953.5C1121.76,964.81 1122.57,980.17 1123.7,993.5C1125.17,980.17 1126.21,964.99 1128.1,953.5C1129.55,944.68 1129.42,934.91 1133.2,930.3C1135.96,926.93 1140.05,926.45 1144.8,925.2C1151.59,923.41 1161.98,923.12 1170.6,922.6C1179.21,922.08 1187.87,922.18 1196.5,922.1C1205.11,922.02 1215.64,922.36 1222.3,922.1C1226.51,921.94 1229.31,920.96 1232.6,921.3C1235.73,921.62 1239,922.38 1241.6,923.9C1244.16,925.4 1245.65,928.01 1248.1,930.3C1251.11,933.1 1254.2,937.63 1258.4,939.4C1263.05,941.35 1269.6,940.2 1275.2,940.6" fill="none" stroke="#3050A2" stroke-width="1.6" stroke-dasharray="5.5 3.8" stroke-linejoin="round"/>
<path d="M775.9,635.4C780.4,635.77 785.19,635.91 789.4,636.5C793.16,637.02 797.08,637.05 800,638.6C802.68,640.02 804.61,642.08 806.5,645C809.16,649.11 811.08,655.94 812.8,662C814.69,668.63 815.87,675.21 817.1,683.3C818.71,693.85 819.81,708.18 820.9,720C821.92,731.03 822.54,739.98 823.5,752C824.74,767.49 826.74,788.74 827.7,805.2C828.53,819.42 828.63,833.28 829.2,845C829.65,854.27 830.06,861.35 830.7,869.9C831.38,879.01 832,889.18 833.2,898.1C834.29,906.24 835.52,914.61 837.4,921.3C838.9,926.63 840.73,931.54 842.8,935.3C844.38,938.16 846.11,940.32 848,942.3C849.71,944.09 851.54,945.42 853.5,946.8C855.53,948.23 857.14,949.03 860,950.7C865.4,953.85 875.53,959.7 883.6,964.1C891.92,968.64 899.74,973.72 909.2,977.5C919.94,981.79 934.37,984.86 945,987.7C953.46,989.96 961.01,991.83 967.9,993.4C973.53,994.68 977.43,995.85 983.3,996.6C990.95,997.58 1002.37,997.51 1010,997.9C1015.72,998.19 1018.73,998.47 1025,998.7C1035.54,999.08 1052.57,999.48 1067.4,999.5C1083.76,999.53 1101.8,998.97 1119,998.7C1136.2,998.43 1153.39,998.2 1170.6,997.9C1187.83,997.6 1204.97,996.99 1222.3,996.9C1239.83,996.81 1257.57,997.23 1275.2,997.4" fill="none" stroke="#000000" stroke-width="2.3" stroke-linejoin="round"/>
<path d="M776.8,626C777.27,628.33 777.46,631.31 778.2,633C778.68,634.11 779.22,634.87 780,635.5C780.81,636.15 781.78,636.48 783,636.8C784.71,637.25 787.05,637.24 789.4,637.5C792.28,637.82 796.64,637.17 799,638.6C801.11,639.88 802.13,642.38 803.3,645C804.82,648.41 805.59,652.46 806.5,657.7C807.92,665.9 808.71,679.17 809.6,689.7C810.47,699.93 811,707.66 811.8,720C813.05,739.34 814.92,772.07 816,794.5C816.89,812.96 817.41,828.99 818,845C818.53,859.51 818.84,872.05 819.4,886.5C820.02,902.32 820.77,920.38 821.6,936.2C822.36,950.66 823.29,966.12 824.1,977.7C824.68,986.04 825.23,992.03 825.8,999.2C826.33,992.03 826.86,986.35 827.4,977.7C828.22,964.54 829.13,944.34 829.9,927.9C830.66,911.78 831.4,894.72 832,880C832.51,867.42 832.85,858.28 833.3,845C833.9,827.45 834.53,804.08 835.2,783.9C835.86,764.09 836.5,740.49 837.3,725C837.82,714.9 838.18,708.16 839,700C839.79,692.13 840.77,683.51 842.1,676.9C843.12,671.82 844.35,667.48 845.7,663.6C846.8,660.44 847.69,657.72 849.3,655.2C850.9,652.7 853.23,649.84 855.3,648.5C856.83,647.51 858.43,647.5 860,647C860.87,646.51 861.67,646.42 862.6,646.59C863.71,646.78 865.11,647.56 866.2,647.71C867.08,647.84 867.82,647.77 868.62,647.67C869.43,647.57 870.23,647.3 871.04,647.1C871.85,646.91 872.65,646.73 873.46,646.52C874.27,646.31 875.07,645.89 875.88,645.86C876.68,645.83 877.46,646.2 878.3,646.33C879.2,646.48 880.17,646.54 881.1,646.7C882.04,646.86 882.97,647.06 883.9,647.28C884.84,647.51 885.81,648.25 886.7,648.08C887.68,647.88 888.56,646.59 889.5,645.89C890.42,645.2 891.36,644.54 892.3,643.92C893.22,643.32 894.21,642.21 895.1,642.23C895.94,642.25 896.7,643.38 897.52,643.86C898.32,644.32 899.12,644.87 899.95,645.05C900.74,645.22 901.57,644.96 902.38,644.99C903.18,645.02 904.01,645.37 904.8,645.24C905.62,645.1 906.42,644.57 907.2,644.12C908.02,643.65 908.76,642.79 909.6,642.44C910.37,642.12 911.22,642.29 912,642C912.83,641.69 913.57,640.87 914.4,640.59C915.18,640.33 916.02,640.25 916.82,640.31C917.63,640.37 918.44,640.7 919.24,640.95C920.05,641.21 920.85,641.54 921.66,641.85C922.47,642.16 923.29,642.87 924.08,642.79C924.91,642.7 925.64,641.66 926.5,641.2C927.39,640.73 928.37,640.27 929.33,640.04C930.26,639.82 931.23,639.99 932.17,639.82C933.12,639.65 934.07,639.22 935,638.99C935.88,638.77 936.74,638.69 937.6,638.48C938.47,638.26 939.33,637.9 940.2,637.7C941.06,637.51 941.94,637.26 942.8,637.32C943.67,637.38 944.53,638.09 945.4,638.08C946.27,638.07 947.13,637.27 948,637.27C948.87,637.27 949.69,637.83 950.6,638.08C951.57,638.34 952.63,638.59 953.65,638.81C954.66,639.02 955.68,639.29 956.7,639.35C957.7,639.42 958.71,639.38 959.7,639.22C960.71,639.06 961.66,638.33 962.7,638.39C963.86,638.45 965.1,639.36 966.3,639.81C967.5,640.26 968.87,641.3 969.9,641.07C970.87,640.86 971.46,639.19 972.35,638.67C973.11,638.23 973.99,638.25 974.8,637.98C975.61,637.7 976.41,637.4 977.2,637.05C978.01,636.69 978.8,636.22 979.6,635.83C980.4,635.44 981.19,635.03 982,634.71C982.79,634.39 983.59,633.78 984.4,633.92C985.39,634.08 986.35,635.63 987.4,636.16C988.36,636.64 989.45,637.03 990.4,637.06C991.24,637.09 992,636.72 992.8,636.53C993.6,636.35 994.42,636.25 995.2,635.94C996.02,635.62 996.78,634.94 997.6,634.62C998.38,634.32 999.19,634.19 1000,634.05C1000.81,633.9 1001.63,633.89 1002.45,633.75C1003.26,633.61 1004.08,633.17 1004.89,633.19C1005.71,633.2 1006.51,633.71 1007.34,633.85C1008.14,634 1008.96,634.03 1009.78,634.06C1010.59,634.1 1011.42,634.21 1012.23,634.09C1013.05,633.96 1013.85,633.46 1014.67,633.28C1015.48,633.11 1016.3,633.08 1017.12,633.02C1017.93,632.95 1018.75,632.96 1019.56,632.9C1020.38,632.83 1021.19,632.7 1022.01,632.63C1022.82,632.56 1023.64,632.45 1024.45,632.48C1025.27,632.51 1026.08,632.74 1026.9,632.82C1027.71,632.91 1028.53,632.98 1029.34,632.96C1030.16,632.95 1030.97,632.75 1031.79,632.72C1032.6,632.7 1033.42,632.84 1034.23,632.83C1035.05,632.82 1035.87,632.62 1036.68,632.67C1037.5,632.73 1038.31,633.04 1039.12,633.17C1039.94,633.3 1040.75,633.44 1041.57,633.48C1042.38,633.52 1043.2,633.47 1044.01,633.39C1044.83,633.3 1045.64,633 1046.46,632.95C1047.27,632.91 1048.09,633.18 1048.9,633.11C1049.72,633.03 1050.53,632.64 1051.35,632.51C1052.16,632.37 1052.99,632.16 1053.79,632.29C1054.63,632.43 1055.41,633.29 1056.24,633.35C1057.04,633.41 1057.87,632.73 1058.68,632.7C1059.5,632.66 1060.31,633.15 1061.13,633.15C1061.94,633.15 1062.76,632.82 1063.57,632.7C1064.39,632.59 1065.21,632.36 1066.02,632.45C1066.85,632.55 1067.64,633.09 1068.46,633.3C1069.27,633.51 1070.09,633.68 1070.91,633.72C1071.72,633.77 1072.56,633.75 1073.35,633.57C1074.19,633.37 1075.02,632.32 1075.8,632.55C1076.91,632.86 1077.77,636.71 1078.9,636.89C1079.84,637.05 1080.92,635.42 1081.93,634.7C1082.94,633.97 1083.9,632.78 1084.97,632.53C1085.93,632.31 1087.04,632.97 1088,633.01C1088.85,633.05 1089.63,633.05 1090.42,632.84C1091.24,632.63 1092.01,631.93 1092.83,631.71C1093.62,631.49 1094.46,631.35 1095.25,631.49C1096.07,631.64 1096.84,632.36 1097.66,632.63C1098.45,632.89 1099.27,633.13 1100.08,633.11C1100.89,633.09 1101.69,632.75 1102.49,632.52C1103.3,632.28 1104.1,631.71 1104.91,631.69C1105.71,631.67 1106.51,632.25 1107.32,632.39C1108.12,632.53 1108.94,632.57 1109.74,632.54C1110.55,632.51 1111.36,632.37 1112.16,632.2C1112.97,632.03 1113.8,631.37 1114.57,631.52C1115.42,631.69 1116.14,633.24 1116.99,633.4C1117.76,633.54 1118.6,632.9 1119.4,632.67C1120.21,632.44 1121.02,631.97 1121.82,632.01C1122.63,632.04 1123.42,632.69 1124.23,632.89C1125.03,633.09 1125.84,633.22 1126.65,633.24C1127.45,633.26 1128.26,633.03 1129.06,633.01C1129.87,632.98 1130.68,633.08 1131.48,633.1C1132.29,633.12 1133.1,633.25 1133.9,633.13C1134.71,633 1135.5,632.57 1136.31,632.34C1137.11,632.11 1137.92,631.76 1138.73,631.73C1139.53,631.71 1140.34,632.13 1141.14,632.16C1141.95,632.2 1142.76,631.86 1143.56,631.94C1144.37,632.02 1145.16,632.56 1145.97,632.66C1146.77,632.76 1147.58,632.62 1148.39,632.58C1149.2,632.54 1150,632.5 1150.81,632.41C1151.61,632.32 1152.42,632.01 1153.22,632.04C1154.03,632.07 1154.83,632.49 1155.64,632.62C1156.44,632.74 1157.25,632.89 1158.05,632.81C1158.86,632.74 1159.66,632.28 1160.47,632.14C1161.27,632.02 1162.08,632 1162.88,632.02C1163.69,632.05 1164.51,632.09 1165.3,632.29C1166.12,632.49 1166.89,633.1 1167.71,633.27C1168.5,633.43 1169.32,633.29 1170.13,633.31C1170.94,633.34 1171.74,633.46 1172.55,633.42C1173.35,633.39 1174.17,633.3 1174.96,633.1C1175.78,632.9 1176.56,632.4 1177.38,632.19C1178.17,631.99 1178.99,631.82 1179.79,631.84C1180.6,631.86 1181.41,632.1 1182.21,632.3C1183.02,632.49 1183.81,632.96 1184.62,633C1185.42,633.03 1186.23,632.66 1187.04,632.53C1187.84,632.4 1188.67,632.09 1189.45,632.22C1190.28,632.35 1191.05,633.24 1191.87,633.36C1192.66,633.47 1193.48,633 1194.29,632.98C1195.09,632.95 1195.9,633.09 1196.7,633.21C1197.51,633.33 1198.32,633.76 1199.12,633.7C1199.93,633.63 1200.72,632.89 1201.53,632.82C1202.33,632.75 1203.14,633.19 1203.95,633.24C1204.75,633.29 1205.56,633.05 1206.36,633.1C1207.17,633.15 1207.98,633.6 1208.78,633.56C1209.59,633.51 1210.38,633.02 1211.19,632.83C1211.99,632.64 1212.82,632.32 1213.61,632.4C1214.43,632.48 1215.21,633.16 1216.03,633.33C1216.82,633.48 1217.64,633.31 1218.44,633.38C1219.25,633.44 1220.05,633.72 1220.86,633.72C1221.66,633.73 1222.48,633.6 1223.27,633.42C1224.09,633.23 1224.87,632.66 1225.69,632.59C1226.49,632.53 1227.3,632.85 1228.1,633.01C1228.91,633.17 1229.71,633.4 1230.52,633.56C1231.32,633.72 1232.13,633.95 1232.94,633.97C1233.74,633.98 1234.55,633.65 1235.35,633.64C1236.16,633.63 1236.97,634 1237.77,633.93C1238.58,633.87 1239.37,633.42 1240.18,633.24C1240.98,633.06 1241.79,632.86 1242.6,632.85C1243.4,632.84 1244.21,633.02 1245.01,633.16C1245.82,633.29 1246.62,633.51 1247.43,633.66C1248.23,633.81 1249.05,634.11 1249.84,634.05C1250.66,633.99 1251.45,633.51 1252.26,633.28C1253.06,633.05 1253.86,632.72 1254.68,632.65C1255.47,632.58 1256.29,632.71 1257.09,632.84C1257.9,632.97 1258.7,633.24 1259.51,633.44C1260.31,633.64 1261.11,633.99 1261.92,634.04C1262.72,634.09 1263.54,633.92 1264.34,633.75C1265.15,633.57 1265.94,633.04 1266.75,633C1267.55,632.96 1268.36,633.41 1269.17,633.49C1269.97,633.56 1270.78,633.46 1271.58,633.46C1272.39,633.46 1273.19,633.49 1274,633.5" fill="none" stroke="#EC1C24" stroke-width="2.4" stroke-linejoin="round"/>
<line x1="827.7" y1="629" x2="881" y2="726.9" stroke="#111" stroke-width="1.3"/>
<text x="852.4" y="743.8" font-size="18.4" fill="#111" text-anchor="start" font-family='"Liberation Serif", serif' font-weight="normal">131.75 °C</text>
<line x1="825.8" y1="999.6" x2="873" y2="932.1" stroke="#111" stroke-width="1.3"/>
<text x="856.5" y="925.8" font-size="18.4" fill="#111" text-anchor="start" font-family='"Liberation Serif", serif' font-weight="normal">126.48 °C</text>
<line x1="1069.5" y1="885.9" x2="1123.7" y2="994.3" stroke="#111" stroke-width="1.3"/>
<text x="1036.2" y="881.3" font-size="18.4" fill="#111" text-anchor="start" font-family='"Liberation Serif", serif' font-weight="normal">704.63 °C</text>
<line x1="1240.8" y1="645.1" x2="1240.8" y2="794.8" stroke="#333" stroke-width="1.2"/>
<line x1="1240.8" y1="825.8" x2="1240.8" y2="988.9" stroke="#333" stroke-width="1.2"/>
<path d="M1240.8,637.1 L1237.5,648.1 L1244.1,648.1 Z" fill="#000"/>
<path d="M1240.8,996.9 L1237.5,985.9 L1244.1,985.9 Z" fill="#000"/>
<text x="1210.6" y="815.5" font-size="18.4" fill="#111" text-anchor="start" font-family='"Liberation Serif", serif' font-weight="normal">-54.08 %</text>
<line x1="1275.8" y1="603.6" x2="1275.8" y2="1025.2" stroke="#EC1C24" stroke-width="3.3"/>
<line x1="1271.3" y1="1023.85" x2="1275.8" y2="1023.85" stroke="#EC1C24" stroke-width="3" stroke-linecap="round"/>
<line x1="1266.8" y1="993.9" x2="1275.8" y2="993.9" stroke="#EC1C24" stroke-width="3" stroke-linecap="round"/>
<text x="1284.5" y="999.5" font-size="18" fill="#EC1C24" text-anchor="start" font-family='"Liberation Serif", serif' font-weight="normal">-12</text>
<line x1="1271.3" y1="963.95" x2="1275.8" y2="963.95" stroke="#EC1C24" stroke-width="3" stroke-linecap="round"/>
<line x1="1266.8" y1="934" x2="1275.8" y2="934" stroke="#EC1C24" stroke-width="3" stroke-linecap="round"/>
<text x="1284.5" y="939.6" font-size="18" fill="#EC1C24" text-anchor="start" font-family='"Liberation Serif", serif' font-weight="normal">-10</text>
<line x1="1271.3" y1="904.05" x2="1275.8" y2="904.05" stroke="#EC1C24" stroke-width="3" stroke-linecap="round"/>
<line x1="1266.8" y1="874.1" x2="1275.8" y2="874.1" stroke="#EC1C24" stroke-width="3" stroke-linecap="round"/>
<text x="1284.5" y="879.7" font-size="18" fill="#EC1C24" text-anchor="start" font-family='"Liberation Serif", serif' font-weight="normal">-8</text>
<line x1="1271.3" y1="844.15" x2="1275.8" y2="844.15" stroke="#EC1C24" stroke-width="3" stroke-linecap="round"/>
<line x1="1266.8" y1="814.2" x2="1275.8" y2="814.2" stroke="#EC1C24" stroke-width="3" stroke-linecap="round"/>
<text x="1284.5" y="819.8" font-size="18" fill="#EC1C24" text-anchor="start" font-family='"Liberation Serif", serif' font-weight="normal">-6</text>
<line x1="1271.3" y1="784.25" x2="1275.8" y2="784.25" stroke="#EC1C24" stroke-width="3" stroke-linecap="round"/>
<line x1="1266.8" y1="754.3" x2="1275.8" y2="754.3" stroke="#EC1C24" stroke-width="3" stroke-linecap="round"/>
<text x="1284.5" y="759.9" font-size="18" fill="#EC1C24" text-anchor="start" font-family='"Liberation Serif", serif' font-weight="normal">-4</text>
<line x1="1271.3" y1="724.35" x2="1275.8" y2="724.35" stroke="#EC1C24" stroke-width="3" stroke-linecap="round"/>
<line x1="1266.8" y1="694.4" x2="1275.8" y2="694.4" stroke="#EC1C24" stroke-width="3" stroke-linecap="round"/>
<text x="1284.5" y="700" font-size="18" fill="#EC1C24" text-anchor="start" font-family='"Liberation Serif", serif' font-weight="normal">-2</text>
<line x1="1271.3" y1="664.45" x2="1275.8" y2="664.45" stroke="#EC1C24" stroke-width="3" stroke-linecap="round"/>
<line x1="1266.8" y1="634.5" x2="1275.8" y2="634.5" stroke="#EC1C24" stroke-width="3" stroke-linecap="round"/>
<text x="1284.5" y="640.1" font-size="18" fill="#EC1C24" text-anchor="start" font-family='"Liberation Serif", serif' font-weight="normal">0</text>
<line x1="1271.3" y1="604.55" x2="1275.8" y2="604.55" stroke="#EC1C24" stroke-width="3" stroke-linecap="round"/>
<line x1="1340.4" y1="603.6" x2="1340.4" y2="1025.2" stroke="#3050A2" stroke-width="3.3"/>
<line x1="1331.4" y1="1025.16" x2="1340.4" y2="1025.16" stroke="#3050A2" stroke-width="3" stroke-linecap="round"/>
<text x="1349.2" y="1030.96" font-size="18" fill="#3050A2" text-anchor="start" font-family='"Liberation Serif", serif' font-weight="normal">-0.5</text>
<line x1="1335.9" y1="1004.08" x2="1340.4" y2="1004.08" stroke="#3050A2" stroke-width="3" stroke-linecap="round"/>
<line x1="1331.4" y1="983" x2="1340.4" y2="983" stroke="#3050A2" stroke-width="3" stroke-linecap="round"/>
<text x="1349.2" y="988.8" font-size="18" fill="#3050A2" text-anchor="start" font-family='"Liberation Serif", serif' font-weight="normal">0.0</text>
<line x1="1335.9" y1="961.92" x2="1340.4" y2="961.92" stroke="#3050A2" stroke-width="3" stroke-linecap="round"/>
<line x1="1331.4" y1="940.84" x2="1340.4" y2="940.84" stroke="#3050A2" stroke-width="3" stroke-linecap="round"/>
<text x="1349.2" y="946.64" font-size="18" fill="#3050A2" text-anchor="start" font-family='"Liberation Serif", serif' font-weight="normal">0.5</text>
<line x1="1335.9" y1="919.76" x2="1340.4" y2="919.76" stroke="#3050A2" stroke-width="3" stroke-linecap="round"/>
<line x1="1331.4" y1="898.68" x2="1340.4" y2="898.68" stroke="#3050A2" stroke-width="3" stroke-linecap="round"/>
<text x="1349.2" y="904.48" font-size="18" fill="#3050A2" text-anchor="start" font-family='"Liberation Serif", serif' font-weight="normal">1.0</text>
<line x1="1335.9" y1="877.6" x2="1340.4" y2="877.6" stroke="#3050A2" stroke-width="3" stroke-linecap="round"/>
<line x1="1331.4" y1="856.52" x2="1340.4" y2="856.52" stroke="#3050A2" stroke-width="3" stroke-linecap="round"/>
<text x="1349.2" y="862.32" font-size="18" fill="#3050A2" text-anchor="start" font-family='"Liberation Serif", serif' font-weight="normal">1.5</text>
<line x1="1335.9" y1="835.44" x2="1340.4" y2="835.44" stroke="#3050A2" stroke-width="3" stroke-linecap="round"/>
<line x1="1331.4" y1="814.36" x2="1340.4" y2="814.36" stroke="#3050A2" stroke-width="3" stroke-linecap="round"/>
<text x="1349.2" y="820.16" font-size="18" fill="#3050A2" text-anchor="start" font-family='"Liberation Serif", serif' font-weight="normal">2.0</text>
<line x1="1335.9" y1="793.28" x2="1340.4" y2="793.28" stroke="#3050A2" stroke-width="3" stroke-linecap="round"/>
<line x1="1331.4" y1="772.2" x2="1340.4" y2="772.2" stroke="#3050A2" stroke-width="3" stroke-linecap="round"/>
<text x="1349.2" y="778" font-size="18" fill="#3050A2" text-anchor="start" font-family='"Liberation Serif", serif' font-weight="normal">2.5</text>
<line x1="1335.9" y1="751.12" x2="1340.4" y2="751.12" stroke="#3050A2" stroke-width="3" stroke-linecap="round"/>
<line x1="1331.4" y1="730.04" x2="1340.4" y2="730.04" stroke="#3050A2" stroke-width="3" stroke-linecap="round"/>
<text x="1349.2" y="735.84" font-size="18" fill="#3050A2" text-anchor="start" font-family='"Liberation Serif", serif' font-weight="normal">3.0</text>
<line x1="1335.9" y1="708.96" x2="1340.4" y2="708.96" stroke="#3050A2" stroke-width="3" stroke-linecap="round"/>
<line x1="1331.4" y1="687.88" x2="1340.4" y2="687.88" stroke="#3050A2" stroke-width="3" stroke-linecap="round"/>
<text x="1349.2" y="693.68" font-size="18" fill="#3050A2" text-anchor="start" font-family='"Liberation Serif", serif' font-weight="normal">3.5</text>
<line x1="1335.9" y1="666.8" x2="1340.4" y2="666.8" stroke="#3050A2" stroke-width="3" stroke-linecap="round"/>
<line x1="1331.4" y1="645.72" x2="1340.4" y2="645.72" stroke="#3050A2" stroke-width="3" stroke-linecap="round"/>
<text x="1349.2" y="651.52" font-size="18" fill="#3050A2" text-anchor="start" font-family='"Liberation Serif", serif' font-weight="normal">4.0</text>
<line x1="1335.9" y1="624.64" x2="1340.4" y2="624.64" stroke="#3050A2" stroke-width="3" stroke-linecap="round"/>
<line x1="1331.4" y1="603.56" x2="1340.4" y2="603.56" stroke="#3050A2" stroke-width="3" stroke-linecap="round"/>
<text x="1349.2" y="609.36" font-size="18" fill="#3050A2" text-anchor="start" font-family='"Liberation Serif", serif' font-weight="normal">4.5</text>
<text x="730.5" y="824.4" font-size="20.1" fill="#000" text-anchor="middle" font-family='"Liberation Serif", serif' font-weight="normal" transform="rotate(-90 730.5 824.4)">TG (%)</text>
<text x="1324.1" y="827.5" font-size="20.1" fill="#EC1C24" text-anchor="middle" font-family='"Liberation Serif", serif' font-weight="normal" transform="rotate(-90 1324.1 827.5)">DTG (%/min)</text>
<text x="1403.9" y="826.4" font-size="20.1" fill="#3050A2" text-anchor="middle" font-family='"Liberation Serif", serif' font-weight="normal" transform="rotate(-90 1403.9 826.4)">DSC (mW/mg)</text>
</svg>
</body></html>
